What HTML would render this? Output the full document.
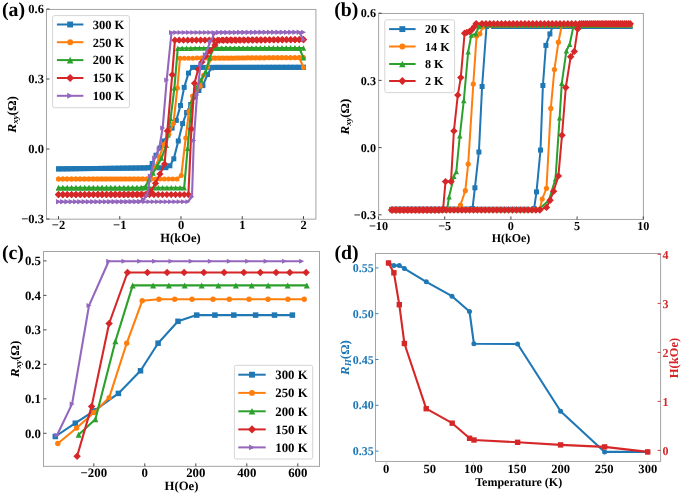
<!DOCTYPE html>
<html><head><meta charset="utf-8"><style>
html,body{margin:0;padding:0;background:#fff;}
svg{display:block;will-change:transform;}
text{font-family:"Liberation Serif", serif;font-weight:bold;text-rendering:geometricPrecision;}
</style></head><body>
<svg width="685" height="503" viewBox="0 0 685 503">
<rect width="685" height="503" fill="#fff"/>
<polyline points="303.5,67.3 299.23,67.3 294.97,67.31 290.7,67.31 286.44,67.32 282.17,67.32 277.91,67.32 273.64,67.33 269.38,67.33 265.11,67.33 260.85,67.34 256.58,67.34 252.32,67.35 248.05,67.35 243.78,67.35 239.52,67.36 235.25,67.36 230.99,67.36 226.72,67.37 222.46,67.37 218.19,67.38 213.93,67.38 209.66,67.38 205.4,67.39 201.13,67.39 196.87,67.4 192.6,67.4 188.5,73.1 184.2,87.37 180.5,105.51 176.3,120.37 172.1,128.12 167.9,135.1 163.9,141 159.9,147.96 156,155.19 152.2,163.5 148.2,167.69 143.93,167.95 139.66,167.99 135.39,168.04 131.11,168.09 126.84,168.14 122.57,168.18 118.3,168.23 114.03,168.28 109.76,168.33 105.49,168.38 101.21,168.42 96.94,168.47 92.67,168.52 88.4,168.57 84.13,168.61 79.86,168.66 75.59,168.71 71.31,168.76 67.04,168.8 62.77,168.85 58.5,168.9 58.5,168.9 62.8,168.85 67.09,168.8 71.39,168.76 75.68,168.71 79.98,168.66 84.28,168.61 88.57,168.56 92.87,168.52 97.16,168.47 101.46,168.42 105.76,168.37 110.05,168.32 114.35,168.28 118.64,168.23 122.94,168.18 127.24,168.13 131.53,168.08 135.83,168.04 140.12,167.99 144.42,167.94 148.72,167.89 153.01,167.84 157.31,167.8 161.6,167.75 165.9,167.7 169.9,165.8 173.8,158.8 178.3,141 182.6,123.6 186.6,112.5 190.7,104.5 194.8,97 198.9,90.5 202.9,85.6 207.5,74.5 211.5,67.9 215.6,67.4 220,67.39 224.39,67.39 228.78,67.38 233.18,67.38 237.57,67.37 241.97,67.37 246.37,67.36 250.76,67.36 255.16,67.35 259.55,67.35 263.94,67.34 268.34,67.34 272.74,67.33 277.13,67.33 281.52,67.32 285.92,67.32 290.31,67.31 294.71,67.31 299.11,67.3 303.5,67.3" fill="none" stroke="#1f77b4" stroke-width="2.1" stroke-linejoin="round"/>
<g><rect x="301" y="64.8" width="5" height="5" fill="#1f77b4"/><rect x="296.73" y="64.8" width="5" height="5" fill="#1f77b4"/><rect x="292.47" y="64.81" width="5" height="5" fill="#1f77b4"/><rect x="288.2" y="64.81" width="5" height="5" fill="#1f77b4"/><rect x="283.94" y="64.82" width="5" height="5" fill="#1f77b4"/><rect x="279.67" y="64.82" width="5" height="5" fill="#1f77b4"/><rect x="275.41" y="64.82" width="5" height="5" fill="#1f77b4"/><rect x="271.14" y="64.83" width="5" height="5" fill="#1f77b4"/><rect x="266.88" y="64.83" width="5" height="5" fill="#1f77b4"/><rect x="262.61" y="64.83" width="5" height="5" fill="#1f77b4"/><rect x="258.35" y="64.84" width="5" height="5" fill="#1f77b4"/><rect x="254.08" y="64.84" width="5" height="5" fill="#1f77b4"/><rect x="249.82" y="64.85" width="5" height="5" fill="#1f77b4"/><rect x="245.55" y="64.85" width="5" height="5" fill="#1f77b4"/><rect x="241.28" y="64.85" width="5" height="5" fill="#1f77b4"/><rect x="237.02" y="64.86" width="5" height="5" fill="#1f77b4"/><rect x="232.75" y="64.86" width="5" height="5" fill="#1f77b4"/><rect x="228.49" y="64.86" width="5" height="5" fill="#1f77b4"/><rect x="224.22" y="64.87" width="5" height="5" fill="#1f77b4"/><rect x="219.96" y="64.87" width="5" height="5" fill="#1f77b4"/><rect x="215.69" y="64.88" width="5" height="5" fill="#1f77b4"/><rect x="211.43" y="64.88" width="5" height="5" fill="#1f77b4"/><rect x="207.16" y="64.88" width="5" height="5" fill="#1f77b4"/><rect x="202.9" y="64.89" width="5" height="5" fill="#1f77b4"/><rect x="198.63" y="64.89" width="5" height="5" fill="#1f77b4"/><rect x="194.37" y="64.9" width="5" height="5" fill="#1f77b4"/><rect x="190.1" y="64.9" width="5" height="5" fill="#1f77b4"/><rect x="186" y="70.6" width="5" height="5" fill="#1f77b4"/><rect x="181.7" y="84.87" width="5" height="5" fill="#1f77b4"/><rect x="178" y="103.01" width="5" height="5" fill="#1f77b4"/><rect x="173.8" y="117.87" width="5" height="5" fill="#1f77b4"/><rect x="169.6" y="125.62" width="5" height="5" fill="#1f77b4"/><rect x="165.4" y="132.6" width="5" height="5" fill="#1f77b4"/><rect x="161.4" y="138.5" width="5" height="5" fill="#1f77b4"/><rect x="157.4" y="145.46" width="5" height="5" fill="#1f77b4"/><rect x="153.5" y="152.69" width="5" height="5" fill="#1f77b4"/><rect x="149.7" y="161" width="5" height="5" fill="#1f77b4"/><rect x="145.7" y="165.19" width="5" height="5" fill="#1f77b4"/><rect x="141.43" y="165.45" width="5" height="5" fill="#1f77b4"/><rect x="137.16" y="165.49" width="5" height="5" fill="#1f77b4"/><rect x="132.89" y="165.54" width="5" height="5" fill="#1f77b4"/><rect x="128.61" y="165.59" width="5" height="5" fill="#1f77b4"/><rect x="124.34" y="165.64" width="5" height="5" fill="#1f77b4"/><rect x="120.07" y="165.68" width="5" height="5" fill="#1f77b4"/><rect x="115.8" y="165.73" width="5" height="5" fill="#1f77b4"/><rect x="111.53" y="165.78" width="5" height="5" fill="#1f77b4"/><rect x="107.26" y="165.83" width="5" height="5" fill="#1f77b4"/><rect x="102.99" y="165.88" width="5" height="5" fill="#1f77b4"/><rect x="98.71" y="165.92" width="5" height="5" fill="#1f77b4"/><rect x="94.44" y="165.97" width="5" height="5" fill="#1f77b4"/><rect x="90.17" y="166.02" width="5" height="5" fill="#1f77b4"/><rect x="85.9" y="166.07" width="5" height="5" fill="#1f77b4"/><rect x="81.63" y="166.11" width="5" height="5" fill="#1f77b4"/><rect x="77.36" y="166.16" width="5" height="5" fill="#1f77b4"/><rect x="73.09" y="166.21" width="5" height="5" fill="#1f77b4"/><rect x="68.81" y="166.26" width="5" height="5" fill="#1f77b4"/><rect x="64.54" y="166.3" width="5" height="5" fill="#1f77b4"/><rect x="60.27" y="166.35" width="5" height="5" fill="#1f77b4"/><rect x="56" y="166.4" width="5" height="5" fill="#1f77b4"/><rect x="56" y="166.4" width="5" height="5" fill="#1f77b4"/><rect x="60.3" y="166.35" width="5" height="5" fill="#1f77b4"/><rect x="64.59" y="166.3" width="5" height="5" fill="#1f77b4"/><rect x="68.89" y="166.26" width="5" height="5" fill="#1f77b4"/><rect x="73.18" y="166.21" width="5" height="5" fill="#1f77b4"/><rect x="77.48" y="166.16" width="5" height="5" fill="#1f77b4"/><rect x="81.78" y="166.11" width="5" height="5" fill="#1f77b4"/><rect x="86.07" y="166.06" width="5" height="5" fill="#1f77b4"/><rect x="90.37" y="166.02" width="5" height="5" fill="#1f77b4"/><rect x="94.66" y="165.97" width="5" height="5" fill="#1f77b4"/><rect x="98.96" y="165.92" width="5" height="5" fill="#1f77b4"/><rect x="103.26" y="165.87" width="5" height="5" fill="#1f77b4"/><rect x="107.55" y="165.82" width="5" height="5" fill="#1f77b4"/><rect x="111.85" y="165.78" width="5" height="5" fill="#1f77b4"/><rect x="116.14" y="165.73" width="5" height="5" fill="#1f77b4"/><rect x="120.44" y="165.68" width="5" height="5" fill="#1f77b4"/><rect x="124.74" y="165.63" width="5" height="5" fill="#1f77b4"/><rect x="129.03" y="165.58" width="5" height="5" fill="#1f77b4"/><rect x="133.33" y="165.54" width="5" height="5" fill="#1f77b4"/><rect x="137.62" y="165.49" width="5" height="5" fill="#1f77b4"/><rect x="141.92" y="165.44" width="5" height="5" fill="#1f77b4"/><rect x="146.22" y="165.39" width="5" height="5" fill="#1f77b4"/><rect x="150.51" y="165.34" width="5" height="5" fill="#1f77b4"/><rect x="154.81" y="165.3" width="5" height="5" fill="#1f77b4"/><rect x="159.1" y="165.25" width="5" height="5" fill="#1f77b4"/><rect x="163.4" y="165.2" width="5" height="5" fill="#1f77b4"/><rect x="167.4" y="163.3" width="5" height="5" fill="#1f77b4"/><rect x="171.3" y="156.3" width="5" height="5" fill="#1f77b4"/><rect x="175.8" y="138.5" width="5" height="5" fill="#1f77b4"/><rect x="180.1" y="121.1" width="5" height="5" fill="#1f77b4"/><rect x="184.1" y="110" width="5" height="5" fill="#1f77b4"/><rect x="188.2" y="102" width="5" height="5" fill="#1f77b4"/><rect x="192.3" y="94.5" width="5" height="5" fill="#1f77b4"/><rect x="196.4" y="88" width="5" height="5" fill="#1f77b4"/><rect x="200.4" y="83.1" width="5" height="5" fill="#1f77b4"/><rect x="205" y="72" width="5" height="5" fill="#1f77b4"/><rect x="209" y="65.4" width="5" height="5" fill="#1f77b4"/><rect x="213.1" y="64.9" width="5" height="5" fill="#1f77b4"/><rect x="217.5" y="64.89" width="5" height="5" fill="#1f77b4"/><rect x="221.89" y="64.89" width="5" height="5" fill="#1f77b4"/><rect x="226.28" y="64.88" width="5" height="5" fill="#1f77b4"/><rect x="230.68" y="64.88" width="5" height="5" fill="#1f77b4"/><rect x="235.07" y="64.87" width="5" height="5" fill="#1f77b4"/><rect x="239.47" y="64.87" width="5" height="5" fill="#1f77b4"/><rect x="243.87" y="64.86" width="5" height="5" fill="#1f77b4"/><rect x="248.26" y="64.86" width="5" height="5" fill="#1f77b4"/><rect x="252.66" y="64.85" width="5" height="5" fill="#1f77b4"/><rect x="257.05" y="64.85" width="5" height="5" fill="#1f77b4"/><rect x="261.44" y="64.84" width="5" height="5" fill="#1f77b4"/><rect x="265.84" y="64.84" width="5" height="5" fill="#1f77b4"/><rect x="270.24" y="64.83" width="5" height="5" fill="#1f77b4"/><rect x="274.63" y="64.83" width="5" height="5" fill="#1f77b4"/><rect x="279.02" y="64.82" width="5" height="5" fill="#1f77b4"/><rect x="283.42" y="64.82" width="5" height="5" fill="#1f77b4"/><rect x="287.81" y="64.81" width="5" height="5" fill="#1f77b4"/><rect x="292.21" y="64.81" width="5" height="5" fill="#1f77b4"/><rect x="296.61" y="64.8" width="5" height="5" fill="#1f77b4"/><rect x="301" y="64.8" width="5" height="5" fill="#1f77b4"/></g>
<polyline points="303.5,67.5 299.24,57.62 294.98,57.64 290.72,57.66 286.47,57.68 282.21,57.7 277.95,57.72 273.69,57.74 269.43,57.77 265.17,57.79 260.91,57.81 256.66,57.83 252.4,57.85 248.14,57.87 243.88,57.89 239.62,57.91 235.36,57.93 231.1,57.95 226.84,57.97 222.59,57.99 218.33,58.01 214.07,58.03 209.81,58.06 205.55,58.08 201.29,58.1 197.03,58.12 192.78,58.14 188.52,58.16 184.26,58.18 180,58.2 177.4,87.9 173.4,123.38 168.9,134.2 163.9,144.4 159.4,156.8 154.9,167.8 150.6,176.75 146.4,179 142,179 137.61,179 133.22,179 128.82,179 124.43,179 120.03,179 115.64,179 111.24,179 106.84,179 102.45,179 98.06,179 93.66,179 89.27,179 84.87,179 80.47,179 76.08,179 71.69,179 67.29,179 62.89,179 58.5,179 58.5,179 62.73,179 66.96,179 71.2,179 75.43,179 79.66,179 83.89,179 88.13,179 92.36,179 96.59,179 100.82,179 105.05,179 109.29,179 113.52,179 117.75,179 121.98,179 126.21,179 130.45,179 134.68,179 138.91,179 143.14,179 147.38,179 151.61,179 155.84,179 160.07,179 164.3,179 168.54,179 172.77,179 177,179 181.3,175.4 185.7,137.9 188.9,111.8 192.5,96.1 196.5,90 200.3,86.2 203.6,75.3 207.7,66.9 211.2,58.3 215.6,58.27 219.99,58.23 224.39,58.2 228.78,58.17 233.18,58.13 237.57,58.1 241.97,58.07 246.36,58.03 250.76,58 255.15,57.97 259.55,57.93 263.94,57.9 268.34,57.87 272.73,57.83 277.13,57.8 281.52,57.77 285.92,57.73 290.31,57.7 294.71,57.67 299.1,57.63 303.5,57.6" fill="none" stroke="#ff7f0e" stroke-width="2.1" stroke-linejoin="round"/>
<g><circle cx="303.5" cy="67.5" r="2.5" fill="#ff7f0e"/><circle cx="299.24" cy="57.62" r="2.5" fill="#ff7f0e"/><circle cx="294.98" cy="57.64" r="2.5" fill="#ff7f0e"/><circle cx="290.72" cy="57.66" r="2.5" fill="#ff7f0e"/><circle cx="286.47" cy="57.68" r="2.5" fill="#ff7f0e"/><circle cx="282.21" cy="57.7" r="2.5" fill="#ff7f0e"/><circle cx="277.95" cy="57.72" r="2.5" fill="#ff7f0e"/><circle cx="273.69" cy="57.74" r="2.5" fill="#ff7f0e"/><circle cx="269.43" cy="57.77" r="2.5" fill="#ff7f0e"/><circle cx="265.17" cy="57.79" r="2.5" fill="#ff7f0e"/><circle cx="260.91" cy="57.81" r="2.5" fill="#ff7f0e"/><circle cx="256.66" cy="57.83" r="2.5" fill="#ff7f0e"/><circle cx="252.4" cy="57.85" r="2.5" fill="#ff7f0e"/><circle cx="248.14" cy="57.87" r="2.5" fill="#ff7f0e"/><circle cx="243.88" cy="57.89" r="2.5" fill="#ff7f0e"/><circle cx="239.62" cy="57.91" r="2.5" fill="#ff7f0e"/><circle cx="235.36" cy="57.93" r="2.5" fill="#ff7f0e"/><circle cx="231.1" cy="57.95" r="2.5" fill="#ff7f0e"/><circle cx="226.84" cy="57.97" r="2.5" fill="#ff7f0e"/><circle cx="222.59" cy="57.99" r="2.5" fill="#ff7f0e"/><circle cx="218.33" cy="58.01" r="2.5" fill="#ff7f0e"/><circle cx="214.07" cy="58.03" r="2.5" fill="#ff7f0e"/><circle cx="209.81" cy="58.06" r="2.5" fill="#ff7f0e"/><circle cx="205.55" cy="58.08" r="2.5" fill="#ff7f0e"/><circle cx="201.29" cy="58.1" r="2.5" fill="#ff7f0e"/><circle cx="197.03" cy="58.12" r="2.5" fill="#ff7f0e"/><circle cx="192.78" cy="58.14" r="2.5" fill="#ff7f0e"/><circle cx="188.52" cy="58.16" r="2.5" fill="#ff7f0e"/><circle cx="184.26" cy="58.18" r="2.5" fill="#ff7f0e"/><circle cx="180" cy="58.2" r="2.5" fill="#ff7f0e"/><circle cx="177.4" cy="87.9" r="2.5" fill="#ff7f0e"/><circle cx="173.4" cy="123.38" r="2.5" fill="#ff7f0e"/><circle cx="168.9" cy="134.2" r="2.5" fill="#ff7f0e"/><circle cx="163.9" cy="144.4" r="2.5" fill="#ff7f0e"/><circle cx="159.4" cy="156.8" r="2.5" fill="#ff7f0e"/><circle cx="154.9" cy="167.8" r="2.5" fill="#ff7f0e"/><circle cx="150.6" cy="176.75" r="2.5" fill="#ff7f0e"/><circle cx="146.4" cy="179" r="2.5" fill="#ff7f0e"/><circle cx="142" cy="179" r="2.5" fill="#ff7f0e"/><circle cx="137.61" cy="179" r="2.5" fill="#ff7f0e"/><circle cx="133.22" cy="179" r="2.5" fill="#ff7f0e"/><circle cx="128.82" cy="179" r="2.5" fill="#ff7f0e"/><circle cx="124.43" cy="179" r="2.5" fill="#ff7f0e"/><circle cx="120.03" cy="179" r="2.5" fill="#ff7f0e"/><circle cx="115.64" cy="179" r="2.5" fill="#ff7f0e"/><circle cx="111.24" cy="179" r="2.5" fill="#ff7f0e"/><circle cx="106.84" cy="179" r="2.5" fill="#ff7f0e"/><circle cx="102.45" cy="179" r="2.5" fill="#ff7f0e"/><circle cx="98.06" cy="179" r="2.5" fill="#ff7f0e"/><circle cx="93.66" cy="179" r="2.5" fill="#ff7f0e"/><circle cx="89.27" cy="179" r="2.5" fill="#ff7f0e"/><circle cx="84.87" cy="179" r="2.5" fill="#ff7f0e"/><circle cx="80.47" cy="179" r="2.5" fill="#ff7f0e"/><circle cx="76.08" cy="179" r="2.5" fill="#ff7f0e"/><circle cx="71.69" cy="179" r="2.5" fill="#ff7f0e"/><circle cx="67.29" cy="179" r="2.5" fill="#ff7f0e"/><circle cx="62.89" cy="179" r="2.5" fill="#ff7f0e"/><circle cx="58.5" cy="179" r="2.5" fill="#ff7f0e"/><circle cx="58.5" cy="179" r="2.5" fill="#ff7f0e"/><circle cx="62.73" cy="179" r="2.5" fill="#ff7f0e"/><circle cx="66.96" cy="179" r="2.5" fill="#ff7f0e"/><circle cx="71.2" cy="179" r="2.5" fill="#ff7f0e"/><circle cx="75.43" cy="179" r="2.5" fill="#ff7f0e"/><circle cx="79.66" cy="179" r="2.5" fill="#ff7f0e"/><circle cx="83.89" cy="179" r="2.5" fill="#ff7f0e"/><circle cx="88.13" cy="179" r="2.5" fill="#ff7f0e"/><circle cx="92.36" cy="179" r="2.5" fill="#ff7f0e"/><circle cx="96.59" cy="179" r="2.5" fill="#ff7f0e"/><circle cx="100.82" cy="179" r="2.5" fill="#ff7f0e"/><circle cx="105.05" cy="179" r="2.5" fill="#ff7f0e"/><circle cx="109.29" cy="179" r="2.5" fill="#ff7f0e"/><circle cx="113.52" cy="179" r="2.5" fill="#ff7f0e"/><circle cx="117.75" cy="179" r="2.5" fill="#ff7f0e"/><circle cx="121.98" cy="179" r="2.5" fill="#ff7f0e"/><circle cx="126.21" cy="179" r="2.5" fill="#ff7f0e"/><circle cx="130.45" cy="179" r="2.5" fill="#ff7f0e"/><circle cx="134.68" cy="179" r="2.5" fill="#ff7f0e"/><circle cx="138.91" cy="179" r="2.5" fill="#ff7f0e"/><circle cx="143.14" cy="179" r="2.5" fill="#ff7f0e"/><circle cx="147.38" cy="179" r="2.5" fill="#ff7f0e"/><circle cx="151.61" cy="179" r="2.5" fill="#ff7f0e"/><circle cx="155.84" cy="179" r="2.5" fill="#ff7f0e"/><circle cx="160.07" cy="179" r="2.5" fill="#ff7f0e"/><circle cx="164.3" cy="179" r="2.5" fill="#ff7f0e"/><circle cx="168.54" cy="179" r="2.5" fill="#ff7f0e"/><circle cx="172.77" cy="179" r="2.5" fill="#ff7f0e"/><circle cx="177" cy="179" r="2.5" fill="#ff7f0e"/><circle cx="181.3" cy="175.4" r="2.5" fill="#ff7f0e"/><circle cx="185.7" cy="137.9" r="2.5" fill="#ff7f0e"/><circle cx="188.9" cy="111.8" r="2.5" fill="#ff7f0e"/><circle cx="192.5" cy="96.1" r="2.5" fill="#ff7f0e"/><circle cx="196.5" cy="90" r="2.5" fill="#ff7f0e"/><circle cx="200.3" cy="86.2" r="2.5" fill="#ff7f0e"/><circle cx="203.6" cy="75.3" r="2.5" fill="#ff7f0e"/><circle cx="207.7" cy="66.9" r="2.5" fill="#ff7f0e"/><circle cx="211.2" cy="58.3" r="2.5" fill="#ff7f0e"/><circle cx="215.6" cy="58.27" r="2.5" fill="#ff7f0e"/><circle cx="219.99" cy="58.23" r="2.5" fill="#ff7f0e"/><circle cx="224.39" cy="58.2" r="2.5" fill="#ff7f0e"/><circle cx="228.78" cy="58.17" r="2.5" fill="#ff7f0e"/><circle cx="233.18" cy="58.13" r="2.5" fill="#ff7f0e"/><circle cx="237.57" cy="58.1" r="2.5" fill="#ff7f0e"/><circle cx="241.97" cy="58.07" r="2.5" fill="#ff7f0e"/><circle cx="246.36" cy="58.03" r="2.5" fill="#ff7f0e"/><circle cx="250.76" cy="58" r="2.5" fill="#ff7f0e"/><circle cx="255.15" cy="57.97" r="2.5" fill="#ff7f0e"/><circle cx="259.55" cy="57.93" r="2.5" fill="#ff7f0e"/><circle cx="263.94" cy="57.9" r="2.5" fill="#ff7f0e"/><circle cx="268.34" cy="57.87" r="2.5" fill="#ff7f0e"/><circle cx="272.73" cy="57.83" r="2.5" fill="#ff7f0e"/><circle cx="277.13" cy="57.8" r="2.5" fill="#ff7f0e"/><circle cx="281.52" cy="57.77" r="2.5" fill="#ff7f0e"/><circle cx="285.92" cy="57.73" r="2.5" fill="#ff7f0e"/><circle cx="290.31" cy="57.7" r="2.5" fill="#ff7f0e"/><circle cx="294.71" cy="57.67" r="2.5" fill="#ff7f0e"/><circle cx="299.1" cy="57.63" r="2.5" fill="#ff7f0e"/><circle cx="303.5" cy="57.6" r="2.5" fill="#ff7f0e"/></g>
<polyline points="303.5,57.8 299.17,48.01 294.83,48.01 290.5,48.02 286.16,48.03 281.83,48.03 277.49,48.04 273.16,48.05 268.82,48.06 264.49,48.06 260.16,48.07 255.82,48.08 251.49,48.08 247.15,48.09 242.82,48.1 238.48,48.1 234.15,48.11 229.81,48.12 225.48,48.12 221.14,48.13 216.81,48.14 212.48,48.14 208.14,48.15 203.81,48.16 199.47,48.17 195.14,48.17 190.8,48.18 186.47,48.19 182.13,48.19 177.8,48.2 174.4,87.9 170.6,118.4 166.4,145.4 161.5,158 157.2,165.94 153.1,173.06 149.1,179.5 145.9,185.9 141.53,187.7 137.16,187.7 132.79,187.7 128.42,187.7 124.05,187.7 119.68,187.7 115.31,187.7 110.94,187.7 106.57,187.7 102.2,187.7 97.83,187.7 93.46,187.7 89.09,187.7 84.72,187.7 80.35,187.7 75.98,187.7 71.61,187.7 67.24,187.7 62.87,187.7 58.5,187.7 58.5,187.7 62.84,187.7 67.18,187.7 71.52,187.7 75.86,187.7 80.2,187.7 84.54,187.7 88.88,187.7 93.21,187.7 97.55,187.7 101.89,187.7 106.23,187.7 110.57,187.7 114.91,187.7 119.25,187.7 123.59,187.7 127.93,187.7 132.27,187.7 136.61,187.7 140.95,187.7 145.29,187.7 149.62,187.7 153.96,187.7 158.3,187.7 162.64,187.7 166.98,187.7 171.32,187.7 175.66,187.7 180,187.7 184.2,187.7 187.6,148.33 191.8,101.3 196,88 200.9,80.16 205.8,71.2 209.6,58.08 213.5,48.2 217.79,48.19 222.07,48.18 226.36,48.17 230.64,48.16 234.93,48.15 239.21,48.14 243.5,48.13 247.79,48.12 252.07,48.11 256.36,48.1 260.64,48.1 264.93,48.09 269.21,48.08 273.5,48.07 277.79,48.06 282.07,48.05 286.36,48.04 290.64,48.03 294.93,48.02 299.21,48.01 303.5,48" fill="none" stroke="#2ca02c" stroke-width="2.1" stroke-linejoin="round"/>
<g><path d="M303.5 55.1L300.8 60.5L306.2 60.5Z" fill="#2ca02c"/><path d="M299.17 45.31L296.47 50.71L301.87 50.71Z" fill="#2ca02c"/><path d="M294.83 45.31L292.13 50.71L297.53 50.71Z" fill="#2ca02c"/><path d="M290.5 45.32L287.8 50.72L293.2 50.72Z" fill="#2ca02c"/><path d="M286.16 45.33L283.46 50.73L288.86 50.73Z" fill="#2ca02c"/><path d="M281.83 45.33L279.13 50.73L284.53 50.73Z" fill="#2ca02c"/><path d="M277.49 45.34L274.79 50.74L280.19 50.74Z" fill="#2ca02c"/><path d="M273.16 45.35L270.46 50.75L275.86 50.75Z" fill="#2ca02c"/><path d="M268.82 45.36L266.12 50.76L271.52 50.76Z" fill="#2ca02c"/><path d="M264.49 45.36L261.79 50.76L267.19 50.76Z" fill="#2ca02c"/><path d="M260.16 45.37L257.46 50.77L262.86 50.77Z" fill="#2ca02c"/><path d="M255.82 45.38L253.12 50.78L258.52 50.78Z" fill="#2ca02c"/><path d="M251.49 45.38L248.79 50.78L254.19 50.78Z" fill="#2ca02c"/><path d="M247.15 45.39L244.45 50.79L249.85 50.79Z" fill="#2ca02c"/><path d="M242.82 45.4L240.12 50.8L245.52 50.8Z" fill="#2ca02c"/><path d="M238.48 45.4L235.78 50.8L241.18 50.8Z" fill="#2ca02c"/><path d="M234.15 45.41L231.45 50.81L236.85 50.81Z" fill="#2ca02c"/><path d="M229.81 45.42L227.11 50.82L232.51 50.82Z" fill="#2ca02c"/><path d="M225.48 45.42L222.78 50.82L228.18 50.82Z" fill="#2ca02c"/><path d="M221.14 45.43L218.44 50.83L223.84 50.83Z" fill="#2ca02c"/><path d="M216.81 45.44L214.11 50.84L219.51 50.84Z" fill="#2ca02c"/><path d="M212.48 45.44L209.78 50.84L215.18 50.84Z" fill="#2ca02c"/><path d="M208.14 45.45L205.44 50.85L210.84 50.85Z" fill="#2ca02c"/><path d="M203.81 45.46L201.11 50.86L206.51 50.86Z" fill="#2ca02c"/><path d="M199.47 45.47L196.77 50.87L202.17 50.87Z" fill="#2ca02c"/><path d="M195.14 45.47L192.44 50.87L197.84 50.87Z" fill="#2ca02c"/><path d="M190.8 45.48L188.1 50.88L193.5 50.88Z" fill="#2ca02c"/><path d="M186.47 45.49L183.77 50.89L189.17 50.89Z" fill="#2ca02c"/><path d="M182.13 45.49L179.43 50.89L184.83 50.89Z" fill="#2ca02c"/><path d="M177.8 45.5L175.1 50.9L180.5 50.9Z" fill="#2ca02c"/><path d="M174.4 85.2L171.7 90.6L177.1 90.6Z" fill="#2ca02c"/><path d="M170.6 115.7L167.9 121.1L173.3 121.1Z" fill="#2ca02c"/><path d="M166.4 142.7L163.7 148.1L169.1 148.1Z" fill="#2ca02c"/><path d="M161.5 155.3L158.8 160.7L164.2 160.7Z" fill="#2ca02c"/><path d="M157.2 163.24L154.5 168.64L159.9 168.64Z" fill="#2ca02c"/><path d="M153.1 170.36L150.4 175.76L155.8 175.76Z" fill="#2ca02c"/><path d="M149.1 176.8L146.4 182.2L151.8 182.2Z" fill="#2ca02c"/><path d="M145.9 183.2L143.2 188.6L148.6 188.6Z" fill="#2ca02c"/><path d="M141.53 185L138.83 190.4L144.23 190.4Z" fill="#2ca02c"/><path d="M137.16 185L134.46 190.4L139.86 190.4Z" fill="#2ca02c"/><path d="M132.79 185L130.09 190.4L135.49 190.4Z" fill="#2ca02c"/><path d="M128.42 185L125.72 190.4L131.12 190.4Z" fill="#2ca02c"/><path d="M124.05 185L121.35 190.4L126.75 190.4Z" fill="#2ca02c"/><path d="M119.68 185L116.98 190.4L122.38 190.4Z" fill="#2ca02c"/><path d="M115.31 185L112.61 190.4L118.01 190.4Z" fill="#2ca02c"/><path d="M110.94 185L108.24 190.4L113.64 190.4Z" fill="#2ca02c"/><path d="M106.57 185L103.87 190.4L109.27 190.4Z" fill="#2ca02c"/><path d="M102.2 185L99.5 190.4L104.9 190.4Z" fill="#2ca02c"/><path d="M97.83 185L95.13 190.4L100.53 190.4Z" fill="#2ca02c"/><path d="M93.46 185L90.76 190.4L96.16 190.4Z" fill="#2ca02c"/><path d="M89.09 185L86.39 190.4L91.79 190.4Z" fill="#2ca02c"/><path d="M84.72 185L82.02 190.4L87.42 190.4Z" fill="#2ca02c"/><path d="M80.35 185L77.65 190.4L83.05 190.4Z" fill="#2ca02c"/><path d="M75.98 185L73.28 190.4L78.68 190.4Z" fill="#2ca02c"/><path d="M71.61 185L68.91 190.4L74.31 190.4Z" fill="#2ca02c"/><path d="M67.24 185L64.54 190.4L69.94 190.4Z" fill="#2ca02c"/><path d="M62.87 185L60.17 190.4L65.57 190.4Z" fill="#2ca02c"/><path d="M58.5 185L55.8 190.4L61.2 190.4Z" fill="#2ca02c"/><path d="M58.5 185L55.8 190.4L61.2 190.4Z" fill="#2ca02c"/><path d="M62.84 185L60.14 190.4L65.54 190.4Z" fill="#2ca02c"/><path d="M67.18 185L64.48 190.4L69.88 190.4Z" fill="#2ca02c"/><path d="M71.52 185L68.82 190.4L74.22 190.4Z" fill="#2ca02c"/><path d="M75.86 185L73.16 190.4L78.56 190.4Z" fill="#2ca02c"/><path d="M80.2 185L77.5 190.4L82.9 190.4Z" fill="#2ca02c"/><path d="M84.54 185L81.84 190.4L87.24 190.4Z" fill="#2ca02c"/><path d="M88.88 185L86.17 190.4L91.58 190.4Z" fill="#2ca02c"/><path d="M93.21 185L90.51 190.4L95.91 190.4Z" fill="#2ca02c"/><path d="M97.55 185L94.85 190.4L100.25 190.4Z" fill="#2ca02c"/><path d="M101.89 185L99.19 190.4L104.59 190.4Z" fill="#2ca02c"/><path d="M106.23 185L103.53 190.4L108.93 190.4Z" fill="#2ca02c"/><path d="M110.57 185L107.87 190.4L113.27 190.4Z" fill="#2ca02c"/><path d="M114.91 185L112.21 190.4L117.61 190.4Z" fill="#2ca02c"/><path d="M119.25 185L116.55 190.4L121.95 190.4Z" fill="#2ca02c"/><path d="M123.59 185L120.89 190.4L126.29 190.4Z" fill="#2ca02c"/><path d="M127.93 185L125.23 190.4L130.63 190.4Z" fill="#2ca02c"/><path d="M132.27 185L129.57 190.4L134.97 190.4Z" fill="#2ca02c"/><path d="M136.61 185L133.91 190.4L139.31 190.4Z" fill="#2ca02c"/><path d="M140.95 185L138.25 190.4L143.65 190.4Z" fill="#2ca02c"/><path d="M145.29 185L142.59 190.4L147.99 190.4Z" fill="#2ca02c"/><path d="M149.62 185L146.93 190.4L152.32 190.4Z" fill="#2ca02c"/><path d="M153.96 185L151.26 190.4L156.66 190.4Z" fill="#2ca02c"/><path d="M158.3 185L155.6 190.4L161 190.4Z" fill="#2ca02c"/><path d="M162.64 185L159.94 190.4L165.34 190.4Z" fill="#2ca02c"/><path d="M166.98 185L164.28 190.4L169.68 190.4Z" fill="#2ca02c"/><path d="M171.32 185L168.62 190.4L174.02 190.4Z" fill="#2ca02c"/><path d="M175.66 185L172.96 190.4L178.36 190.4Z" fill="#2ca02c"/><path d="M180 185L177.3 190.4L182.7 190.4Z" fill="#2ca02c"/><path d="M184.2 185L181.5 190.4L186.9 190.4Z" fill="#2ca02c"/><path d="M187.6 145.63L184.9 151.03L190.3 151.03Z" fill="#2ca02c"/><path d="M191.8 98.6L189.1 104L194.5 104Z" fill="#2ca02c"/><path d="M196 85.3L193.3 90.7L198.7 90.7Z" fill="#2ca02c"/><path d="M200.9 77.46L198.2 82.86L203.6 82.86Z" fill="#2ca02c"/><path d="M205.8 68.5L203.1 73.9L208.5 73.9Z" fill="#2ca02c"/><path d="M209.6 55.38L206.9 60.78L212.3 60.78Z" fill="#2ca02c"/><path d="M213.5 45.5L210.8 50.9L216.2 50.9Z" fill="#2ca02c"/><path d="M217.79 45.49L215.09 50.89L220.49 50.89Z" fill="#2ca02c"/><path d="M222.07 45.48L219.37 50.88L224.77 50.88Z" fill="#2ca02c"/><path d="M226.36 45.47L223.66 50.87L229.06 50.87Z" fill="#2ca02c"/><path d="M230.64 45.46L227.94 50.86L233.34 50.86Z" fill="#2ca02c"/><path d="M234.93 45.45L232.23 50.85L237.63 50.85Z" fill="#2ca02c"/><path d="M239.21 45.44L236.51 50.84L241.91 50.84Z" fill="#2ca02c"/><path d="M243.5 45.43L240.8 50.83L246.2 50.83Z" fill="#2ca02c"/><path d="M247.79 45.42L245.09 50.82L250.49 50.82Z" fill="#2ca02c"/><path d="M252.07 45.41L249.37 50.81L254.77 50.81Z" fill="#2ca02c"/><path d="M256.36 45.4L253.66 50.8L259.06 50.8Z" fill="#2ca02c"/><path d="M260.64 45.4L257.94 50.8L263.34 50.8Z" fill="#2ca02c"/><path d="M264.93 45.39L262.23 50.79L267.63 50.79Z" fill="#2ca02c"/><path d="M269.21 45.38L266.51 50.78L271.91 50.78Z" fill="#2ca02c"/><path d="M273.5 45.37L270.8 50.77L276.2 50.77Z" fill="#2ca02c"/><path d="M277.79 45.36L275.09 50.76L280.49 50.76Z" fill="#2ca02c"/><path d="M282.07 45.35L279.37 50.75L284.77 50.75Z" fill="#2ca02c"/><path d="M286.36 45.34L283.66 50.74L289.06 50.74Z" fill="#2ca02c"/><path d="M290.64 45.33L287.94 50.73L293.34 50.73Z" fill="#2ca02c"/><path d="M294.93 45.32L292.23 50.72L297.63 50.72Z" fill="#2ca02c"/><path d="M299.21 45.31L296.51 50.71L301.91 50.71Z" fill="#2ca02c"/><path d="M303.5 45.3L300.8 50.7L306.2 50.7Z" fill="#2ca02c"/></g>
<polyline points="303.5,39.6 299.21,39.62 294.93,39.64 290.64,39.66 286.35,39.68 282.07,39.7 277.78,39.72 273.49,39.74 269.21,39.76 264.92,39.78 260.63,39.8 256.35,39.82 252.06,39.84 247.77,39.86 243.49,39.88 239.2,39.9 234.91,39.92 230.63,39.94 226.34,39.96 222.05,39.98 217.77,40 213.48,40.02 209.19,40.04 204.91,40.06 200.62,40.08 196.33,40.1 192.05,40.12 187.76,40.14 183.47,40.16 179.19,40.18 174.9,40.2 172.2,74.8 167.4,130.9 164.6,164 160,174 155.5,183.3 150.7,191.5 146.4,194.3 142,194.32 137.61,194.33 133.22,194.35 128.82,194.36 124.43,194.38 120.03,194.39 115.64,194.41 111.24,194.42 106.84,194.44 102.45,194.45 98.06,194.47 93.66,194.48 89.27,194.5 84.87,194.51 80.47,194.53 76.08,194.54 71.69,194.56 67.29,194.57 62.89,194.59 58.5,194.6 58.5,194.6 62.83,194.6 67.17,194.6 71.5,194.6 75.84,194.6 80.17,194.6 84.51,194.6 88.84,194.6 93.18,194.6 97.51,194.6 101.84,194.6 106.18,194.6 110.51,194.6 114.85,194.6 119.18,194.6 123.52,194.6 127.85,194.6 132.19,194.6 136.52,194.6 140.86,194.6 145.19,194.6 149.52,194.6 153.86,194.6 158.19,194.6 162.53,194.6 166.86,194.6 171.2,194.6 175.53,194.6 179.87,194.6 184.2,194.6 188.4,194.6 191.4,128.9 194.5,83.3 198.2,69.3 202,62 205.9,55.99 209.9,50.9 214.9,44.9 219.2,40.49 223.41,40.44 227.63,40.4 231.84,40.35 236.06,40.31 240.27,40.27 244.49,40.22 248.7,40.18 252.92,40.13 257.13,40.09 261.35,40.04 265.56,40 269.78,39.95 274,39.91 278.21,39.87 282.43,39.82 286.64,39.78 290.86,39.73 295.07,39.69 299.28,39.64 303.5,39.6" fill="none" stroke="#d62728" stroke-width="2.1" stroke-linejoin="round"/>
<g><path d="M303.5 36L307.1 39.6L303.5 43.2L299.9 39.6Z" fill="#d62728"/><path d="M299.21 36.02L302.81 39.62L299.21 43.22L295.62 39.62Z" fill="#d62728"/><path d="M294.93 36.04L298.52 39.64L294.93 43.24L291.33 39.64Z" fill="#d62728"/><path d="M290.64 36.06L294.24 39.66L290.64 43.26L287.04 39.66Z" fill="#d62728"/><path d="M286.35 36.08L289.95 39.68L286.35 43.28L282.76 39.68Z" fill="#d62728"/><path d="M282.07 36.1L285.66 39.7L282.07 43.3L278.47 39.7Z" fill="#d62728"/><path d="M277.78 36.12L281.38 39.72L277.78 43.32L274.18 39.72Z" fill="#d62728"/><path d="M273.49 36.14L277.09 39.74L273.49 43.34L269.9 39.74Z" fill="#d62728"/><path d="M269.21 36.16L272.8 39.76L269.21 43.36L265.61 39.76Z" fill="#d62728"/><path d="M264.92 36.18L268.52 39.78L264.92 43.38L261.32 39.78Z" fill="#d62728"/><path d="M260.63 36.2L264.23 39.8L260.63 43.4L257.04 39.8Z" fill="#d62728"/><path d="M256.35 36.22L259.94 39.82L256.35 43.42L252.75 39.82Z" fill="#d62728"/><path d="M252.06 36.24L255.66 39.84L252.06 43.44L248.46 39.84Z" fill="#d62728"/><path d="M247.77 36.26L251.37 39.86L247.77 43.46L244.18 39.86Z" fill="#d62728"/><path d="M243.49 36.28L247.08 39.88L243.49 43.48L239.89 39.88Z" fill="#d62728"/><path d="M239.2 36.3L242.8 39.9L239.2 43.5L235.6 39.9Z" fill="#d62728"/><path d="M234.91 36.32L238.51 39.92L234.91 43.52L231.32 39.92Z" fill="#d62728"/><path d="M230.63 36.34L234.22 39.94L230.63 43.54L227.03 39.94Z" fill="#d62728"/><path d="M226.34 36.36L229.94 39.96L226.34 43.56L222.74 39.96Z" fill="#d62728"/><path d="M222.05 36.38L225.65 39.98L222.05 43.58L218.46 39.98Z" fill="#d62728"/><path d="M217.77 36.4L221.36 40L217.77 43.6L214.17 40Z" fill="#d62728"/><path d="M213.48 36.42L217.08 40.02L213.48 43.62L209.88 40.02Z" fill="#d62728"/><path d="M209.19 36.44L212.79 40.04L209.19 43.64L205.6 40.04Z" fill="#d62728"/><path d="M204.91 36.46L208.5 40.06L204.91 43.66L201.31 40.06Z" fill="#d62728"/><path d="M200.62 36.48L204.22 40.08L200.62 43.68L197.02 40.08Z" fill="#d62728"/><path d="M196.33 36.5L199.93 40.1L196.33 43.7L192.74 40.1Z" fill="#d62728"/><path d="M192.05 36.52L195.64 40.12L192.05 43.72L188.45 40.12Z" fill="#d62728"/><path d="M187.76 36.54L191.36 40.14L187.76 43.74L184.16 40.14Z" fill="#d62728"/><path d="M183.47 36.56L187.07 40.16L183.47 43.76L179.88 40.16Z" fill="#d62728"/><path d="M179.19 36.58L182.78 40.18L179.19 43.78L175.59 40.18Z" fill="#d62728"/><path d="M174.9 36.6L178.5 40.2L174.9 43.8L171.3 40.2Z" fill="#d62728"/><path d="M172.2 71.2L175.8 74.8L172.2 78.4L168.6 74.8Z" fill="#d62728"/><path d="M167.4 127.3L171 130.9L167.4 134.5L163.8 130.9Z" fill="#d62728"/><path d="M164.6 160.4L168.2 164L164.6 167.6L161 164Z" fill="#d62728"/><path d="M160 170.4L163.6 174L160 177.6L156.4 174Z" fill="#d62728"/><path d="M155.5 179.7L159.1 183.3L155.5 186.9L151.9 183.3Z" fill="#d62728"/><path d="M150.7 187.9L154.3 191.5L150.7 195.1L147.1 191.5Z" fill="#d62728"/><path d="M146.4 190.71L150 194.3L146.4 197.9L142.8 194.3Z" fill="#d62728"/><path d="M142 190.72L145.6 194.32L142 197.91L138.41 194.32Z" fill="#d62728"/><path d="M137.61 190.74L141.21 194.33L137.61 197.93L134.01 194.33Z" fill="#d62728"/><path d="M133.22 190.75L136.81 194.35L133.22 197.94L129.62 194.35Z" fill="#d62728"/><path d="M128.82 190.77L132.42 194.36L128.82 197.96L125.22 194.36Z" fill="#d62728"/><path d="M124.43 190.78L128.02 194.38L124.43 197.97L120.83 194.38Z" fill="#d62728"/><path d="M120.03 190.8L123.63 194.39L120.03 197.99L116.43 194.39Z" fill="#d62728"/><path d="M115.64 190.81L119.23 194.41L115.64 198L112.04 194.41Z" fill="#d62728"/><path d="M111.24 190.83L114.84 194.42L111.24 198.02L107.64 194.42Z" fill="#d62728"/><path d="M106.84 190.84L110.44 194.44L106.84 198.03L103.25 194.44Z" fill="#d62728"/><path d="M102.45 190.86L106.05 194.45L102.45 198.05L98.85 194.45Z" fill="#d62728"/><path d="M98.06 190.87L101.65 194.47L98.06 198.06L94.46 194.47Z" fill="#d62728"/><path d="M93.66 190.88L97.26 194.48L93.66 198.08L90.06 194.48Z" fill="#d62728"/><path d="M89.27 190.9L92.86 194.5L89.27 198.09L85.67 194.5Z" fill="#d62728"/><path d="M84.87 190.91L88.47 194.51L84.87 198.11L81.27 194.51Z" fill="#d62728"/><path d="M80.47 190.93L84.07 194.53L80.47 198.12L76.88 194.53Z" fill="#d62728"/><path d="M76.08 190.94L79.68 194.54L76.08 198.14L72.48 194.54Z" fill="#d62728"/><path d="M71.69 190.96L75.28 194.56L71.69 198.15L68.09 194.56Z" fill="#d62728"/><path d="M67.29 190.97L70.89 194.57L67.29 198.17L63.69 194.57Z" fill="#d62728"/><path d="M62.89 190.99L66.49 194.59L62.89 198.18L59.3 194.59Z" fill="#d62728"/><path d="M58.5 191L62.1 194.6L58.5 198.2L54.9 194.6Z" fill="#d62728"/><path d="M58.5 191L62.1 194.6L58.5 198.2L54.9 194.6Z" fill="#d62728"/><path d="M62.83 191L66.43 194.6L62.83 198.2L59.24 194.6Z" fill="#d62728"/><path d="M67.17 191L70.76 194.6L67.17 198.2L63.57 194.6Z" fill="#d62728"/><path d="M71.5 191L75.1 194.6L71.5 198.2L67.91 194.6Z" fill="#d62728"/><path d="M75.84 191L79.43 194.6L75.84 198.2L72.24 194.6Z" fill="#d62728"/><path d="M80.17 191L83.77 194.6L80.17 198.2L76.58 194.6Z" fill="#d62728"/><path d="M84.51 191L88.1 194.6L84.51 198.2L80.91 194.6Z" fill="#d62728"/><path d="M88.84 191L92.44 194.6L88.84 198.2L85.25 194.6Z" fill="#d62728"/><path d="M93.18 191L96.77 194.6L93.18 198.2L89.58 194.6Z" fill="#d62728"/><path d="M97.51 191L101.11 194.6L97.51 198.2L93.91 194.6Z" fill="#d62728"/><path d="M101.84 191L105.44 194.6L101.84 198.2L98.25 194.6Z" fill="#d62728"/><path d="M106.18 191L109.78 194.6L106.18 198.2L102.58 194.6Z" fill="#d62728"/><path d="M110.51 191L114.11 194.6L110.51 198.2L106.92 194.6Z" fill="#d62728"/><path d="M114.85 191L118.44 194.6L114.85 198.2L111.25 194.6Z" fill="#d62728"/><path d="M119.18 191L122.78 194.6L119.18 198.2L115.59 194.6Z" fill="#d62728"/><path d="M123.52 191L127.11 194.6L123.52 198.2L119.92 194.6Z" fill="#d62728"/><path d="M127.85 191L131.45 194.6L127.85 198.2L124.26 194.6Z" fill="#d62728"/><path d="M132.19 191L135.78 194.6L132.19 198.2L128.59 194.6Z" fill="#d62728"/><path d="M136.52 191L140.12 194.6L136.52 198.2L132.92 194.6Z" fill="#d62728"/><path d="M140.86 191L144.45 194.6L140.86 198.2L137.26 194.6Z" fill="#d62728"/><path d="M145.19 191L148.79 194.6L145.19 198.2L141.59 194.6Z" fill="#d62728"/><path d="M149.52 191L153.12 194.6L149.52 198.2L145.93 194.6Z" fill="#d62728"/><path d="M153.86 191L157.45 194.6L153.86 198.2L150.26 194.6Z" fill="#d62728"/><path d="M158.19 191L161.79 194.6L158.19 198.2L154.6 194.6Z" fill="#d62728"/><path d="M162.53 191L166.12 194.6L162.53 198.2L158.93 194.6Z" fill="#d62728"/><path d="M166.86 191L170.46 194.6L166.86 198.2L163.27 194.6Z" fill="#d62728"/><path d="M171.2 191L174.79 194.6L171.2 198.2L167.6 194.6Z" fill="#d62728"/><path d="M175.53 191L179.13 194.6L175.53 198.2L171.94 194.6Z" fill="#d62728"/><path d="M179.87 191L183.46 194.6L179.87 198.2L176.27 194.6Z" fill="#d62728"/><path d="M184.2 191L187.8 194.6L184.2 198.2L180.6 194.6Z" fill="#d62728"/><path d="M188.4 191L192 194.6L188.4 198.2L184.8 194.6Z" fill="#d62728"/><path d="M191.4 125.3L195 128.9L191.4 132.5L187.8 128.9Z" fill="#d62728"/><path d="M194.5 79.7L198.1 83.3L194.5 86.9L190.9 83.3Z" fill="#d62728"/><path d="M198.2 65.7L201.8 69.3L198.2 72.9L194.6 69.3Z" fill="#d62728"/><path d="M202 58.4L205.6 62L202 65.6L198.4 62Z" fill="#d62728"/><path d="M205.9 52.39L209.5 55.99L205.9 59.59L202.3 55.99Z" fill="#d62728"/><path d="M209.9 47.3L213.5 50.9L209.9 54.5L206.3 50.9Z" fill="#d62728"/><path d="M214.9 41.3L218.5 44.9L214.9 48.5L211.3 44.9Z" fill="#d62728"/><path d="M219.2 36.89L222.8 40.49L219.2 44.08L215.6 40.49Z" fill="#d62728"/><path d="M223.41 36.85L227.01 40.44L223.41 44.04L219.82 40.44Z" fill="#d62728"/><path d="M227.63 36.8L231.23 40.4L227.63 43.99L224.03 40.4Z" fill="#d62728"/><path d="M231.84 36.76L235.44 40.35L231.84 43.95L228.25 40.35Z" fill="#d62728"/><path d="M236.06 36.71L239.66 40.31L236.06 43.91L232.46 40.31Z" fill="#d62728"/><path d="M240.27 36.67L243.87 40.27L240.27 43.86L236.68 40.27Z" fill="#d62728"/><path d="M244.49 36.63L248.09 40.22L244.49 43.82L240.89 40.22Z" fill="#d62728"/><path d="M248.7 36.58L252.3 40.18L248.7 43.77L245.11 40.18Z" fill="#d62728"/><path d="M252.92 36.54L256.52 40.13L252.92 43.73L249.32 40.13Z" fill="#d62728"/><path d="M257.13 36.49L260.73 40.09L257.13 43.68L253.54 40.09Z" fill="#d62728"/><path d="M261.35 36.45L264.95 40.04L261.35 43.64L257.75 40.04Z" fill="#d62728"/><path d="M265.56 36.4L269.16 40L265.56 43.6L261.97 40Z" fill="#d62728"/><path d="M269.78 36.36L273.38 39.95L269.78 43.55L266.18 39.95Z" fill="#d62728"/><path d="M274 36.31L277.59 39.91L274 43.51L270.4 39.91Z" fill="#d62728"/><path d="M278.21 36.27L281.81 39.87L278.21 43.46L274.61 39.87Z" fill="#d62728"/><path d="M282.43 36.23L286.02 39.82L282.43 43.42L278.83 39.82Z" fill="#d62728"/><path d="M286.64 36.18L290.24 39.78L286.64 43.37L283.04 39.78Z" fill="#d62728"/><path d="M290.86 36.14L294.45 39.73L290.86 43.33L287.26 39.73Z" fill="#d62728"/><path d="M295.07 36.09L298.67 39.69L295.07 43.28L291.47 39.69Z" fill="#d62728"/><path d="M299.28 36.05L302.88 39.64L299.28 43.24L295.69 39.64Z" fill="#d62728"/><path d="M303.5 36L307.1 39.6L303.5 43.2L299.9 39.6Z" fill="#d62728"/></g>
<polyline points="303.5,39.7 299.24,32.31 294.98,32.31 290.73,32.32 286.47,32.33 282.21,32.33 277.95,32.34 273.69,32.35 269.44,32.35 265.18,32.36 260.92,32.36 256.66,32.37 252.4,32.38 248.15,32.38 243.89,32.39 239.63,32.4 235.37,32.4 231.11,32.41 226.85,32.42 222.6,32.42 218.34,32.43 214.08,32.44 209.82,32.44 205.56,32.45 201.31,32.45 197.05,32.46 192.79,32.47 188.53,32.47 184.27,32.48 180.02,32.49 175.76,32.49 171.5,32.5 166.7,80 162.7,127.9 159.1,149 154.6,158 150.3,176 147.1,195.4 143.5,199.16 139.5,201.6 135.24,201.61 130.97,201.62 126.71,201.63 122.45,201.64 118.18,201.65 113.92,201.66 109.66,201.67 105.39,201.68 101.13,201.7 96.87,201.71 92.61,201.72 88.34,201.73 84.08,201.74 79.82,201.75 75.55,201.76 71.29,201.77 67.03,201.78 62.76,201.79 58.5,201.8 58.5,201.8 62.81,201.8 67.12,201.79 71.43,201.79 75.74,201.79 80.05,201.78 84.36,201.78 88.67,201.78 92.98,201.77 97.29,201.77 101.6,201.77 105.91,201.76 110.22,201.76 114.53,201.76 118.84,201.75 123.15,201.75 127.46,201.75 131.77,201.74 136.08,201.74 140.39,201.74 144.7,201.73 149.01,201.73 153.32,201.73 157.63,201.72 161.94,201.72 166.25,201.72 170.56,201.71 174.87,201.71 179.18,201.71 183.49,201.7 187.8,201.7 192,196.8 193.8,140.5 197,95 200.6,64.5 205.3,54.4 210.4,41.7 214.5,33.5 218.7,32.4 222.94,32.39 227.18,32.39 231.42,32.38 235.66,32.38 239.9,32.37 244.14,32.37 248.38,32.36 252.62,32.36 256.86,32.35 261.1,32.35 265.34,32.34 269.58,32.34 273.82,32.33 278.06,32.33 282.3,32.32 286.54,32.32 290.78,32.31 295.02,32.31 299.26,32.3 303.5,32.3" fill="none" stroke="#9467bd" stroke-width="2.1" stroke-linejoin="round"/>
<g><path d="M306 39.7L301 37.2L301 42.2Z" fill="#9467bd"/><path d="M301.74 32.31L296.74 29.81L296.74 34.81Z" fill="#9467bd"/><path d="M297.48 32.31L292.48 29.81L292.48 34.81Z" fill="#9467bd"/><path d="M293.23 32.32L288.23 29.82L288.23 34.82Z" fill="#9467bd"/><path d="M288.97 32.33L283.97 29.83L283.97 34.83Z" fill="#9467bd"/><path d="M284.71 32.33L279.71 29.83L279.71 34.83Z" fill="#9467bd"/><path d="M280.45 32.34L275.45 29.84L275.45 34.84Z" fill="#9467bd"/><path d="M276.19 32.35L271.19 29.85L271.19 34.85Z" fill="#9467bd"/><path d="M271.94 32.35L266.94 29.85L266.94 34.85Z" fill="#9467bd"/><path d="M267.68 32.36L262.68 29.86L262.68 34.86Z" fill="#9467bd"/><path d="M263.42 32.36L258.42 29.86L258.42 34.86Z" fill="#9467bd"/><path d="M259.16 32.37L254.16 29.87L254.16 34.87Z" fill="#9467bd"/><path d="M254.9 32.38L249.9 29.88L249.9 34.88Z" fill="#9467bd"/><path d="M250.65 32.38L245.65 29.88L245.65 34.88Z" fill="#9467bd"/><path d="M246.39 32.39L241.39 29.89L241.39 34.89Z" fill="#9467bd"/><path d="M242.13 32.4L237.13 29.9L237.13 34.9Z" fill="#9467bd"/><path d="M237.87 32.4L232.87 29.9L232.87 34.9Z" fill="#9467bd"/><path d="M233.61 32.41L228.61 29.91L228.61 34.91Z" fill="#9467bd"/><path d="M229.35 32.42L224.35 29.92L224.35 34.92Z" fill="#9467bd"/><path d="M225.1 32.42L220.1 29.92L220.1 34.92Z" fill="#9467bd"/><path d="M220.84 32.43L215.84 29.93L215.84 34.93Z" fill="#9467bd"/><path d="M216.58 32.44L211.58 29.94L211.58 34.94Z" fill="#9467bd"/><path d="M212.32 32.44L207.32 29.94L207.32 34.94Z" fill="#9467bd"/><path d="M208.06 32.45L203.06 29.95L203.06 34.95Z" fill="#9467bd"/><path d="M203.81 32.45L198.81 29.95L198.81 34.95Z" fill="#9467bd"/><path d="M199.55 32.46L194.55 29.96L194.55 34.96Z" fill="#9467bd"/><path d="M195.29 32.47L190.29 29.97L190.29 34.97Z" fill="#9467bd"/><path d="M191.03 32.47L186.03 29.97L186.03 34.97Z" fill="#9467bd"/><path d="M186.77 32.48L181.77 29.98L181.77 34.98Z" fill="#9467bd"/><path d="M182.52 32.49L177.52 29.99L177.52 34.99Z" fill="#9467bd"/><path d="M178.26 32.49L173.26 29.99L173.26 34.99Z" fill="#9467bd"/><path d="M174 32.5L169 30L169 35Z" fill="#9467bd"/><path d="M169.2 80L164.2 77.5L164.2 82.5Z" fill="#9467bd"/><path d="M165.2 127.9L160.2 125.4L160.2 130.4Z" fill="#9467bd"/><path d="M161.6 149L156.6 146.5L156.6 151.5Z" fill="#9467bd"/><path d="M157.1 158L152.1 155.5L152.1 160.5Z" fill="#9467bd"/><path d="M152.8 176L147.8 173.5L147.8 178.5Z" fill="#9467bd"/><path d="M149.6 195.4L144.6 192.9L144.6 197.9Z" fill="#9467bd"/><path d="M146 199.16L141 196.66L141 201.66Z" fill="#9467bd"/><path d="M142 201.6L137 199.1L137 204.1Z" fill="#9467bd"/><path d="M137.74 201.61L132.74 199.11L132.74 204.11Z" fill="#9467bd"/><path d="M133.47 201.62L128.47 199.12L128.47 204.12Z" fill="#9467bd"/><path d="M129.21 201.63L124.21 199.13L124.21 204.13Z" fill="#9467bd"/><path d="M124.95 201.64L119.95 199.14L119.95 204.14Z" fill="#9467bd"/><path d="M120.68 201.65L115.68 199.15L115.68 204.15Z" fill="#9467bd"/><path d="M116.42 201.66L111.42 199.16L111.42 204.16Z" fill="#9467bd"/><path d="M112.16 201.67L107.16 199.17L107.16 204.17Z" fill="#9467bd"/><path d="M107.89 201.68L102.89 199.18L102.89 204.18Z" fill="#9467bd"/><path d="M103.63 201.7L98.63 199.2L98.63 204.2Z" fill="#9467bd"/><path d="M99.37 201.71L94.37 199.21L94.37 204.21Z" fill="#9467bd"/><path d="M95.11 201.72L90.11 199.22L90.11 204.22Z" fill="#9467bd"/><path d="M90.84 201.73L85.84 199.23L85.84 204.23Z" fill="#9467bd"/><path d="M86.58 201.74L81.58 199.24L81.58 204.24Z" fill="#9467bd"/><path d="M82.32 201.75L77.32 199.25L77.32 204.25Z" fill="#9467bd"/><path d="M78.05 201.76L73.05 199.26L73.05 204.26Z" fill="#9467bd"/><path d="M73.79 201.77L68.79 199.27L68.79 204.27Z" fill="#9467bd"/><path d="M69.53 201.78L64.53 199.28L64.53 204.28Z" fill="#9467bd"/><path d="M65.26 201.79L60.26 199.29L60.26 204.29Z" fill="#9467bd"/><path d="M61 201.8L56 199.3L56 204.3Z" fill="#9467bd"/><path d="M61 201.8L56 199.3L56 204.3Z" fill="#9467bd"/><path d="M65.31 201.8L60.31 199.3L60.31 204.3Z" fill="#9467bd"/><path d="M69.62 201.79L64.62 199.29L64.62 204.29Z" fill="#9467bd"/><path d="M73.93 201.79L68.93 199.29L68.93 204.29Z" fill="#9467bd"/><path d="M78.24 201.79L73.24 199.29L73.24 204.29Z" fill="#9467bd"/><path d="M82.55 201.78L77.55 199.28L77.55 204.28Z" fill="#9467bd"/><path d="M86.86 201.78L81.86 199.28L81.86 204.28Z" fill="#9467bd"/><path d="M91.17 201.78L86.17 199.28L86.17 204.28Z" fill="#9467bd"/><path d="M95.48 201.77L90.48 199.27L90.48 204.27Z" fill="#9467bd"/><path d="M99.79 201.77L94.79 199.27L94.79 204.27Z" fill="#9467bd"/><path d="M104.1 201.77L99.1 199.27L99.1 204.27Z" fill="#9467bd"/><path d="M108.41 201.76L103.41 199.26L103.41 204.26Z" fill="#9467bd"/><path d="M112.72 201.76L107.72 199.26L107.72 204.26Z" fill="#9467bd"/><path d="M117.03 201.76L112.03 199.26L112.03 204.26Z" fill="#9467bd"/><path d="M121.34 201.75L116.34 199.25L116.34 204.25Z" fill="#9467bd"/><path d="M125.65 201.75L120.65 199.25L120.65 204.25Z" fill="#9467bd"/><path d="M129.96 201.75L124.96 199.25L124.96 204.25Z" fill="#9467bd"/><path d="M134.27 201.74L129.27 199.24L129.27 204.24Z" fill="#9467bd"/><path d="M138.58 201.74L133.58 199.24L133.58 204.24Z" fill="#9467bd"/><path d="M142.89 201.74L137.89 199.24L137.89 204.24Z" fill="#9467bd"/><path d="M147.2 201.73L142.2 199.23L142.2 204.23Z" fill="#9467bd"/><path d="M151.51 201.73L146.51 199.23L146.51 204.23Z" fill="#9467bd"/><path d="M155.82 201.73L150.82 199.23L150.82 204.23Z" fill="#9467bd"/><path d="M160.13 201.72L155.13 199.22L155.13 204.22Z" fill="#9467bd"/><path d="M164.44 201.72L159.44 199.22L159.44 204.22Z" fill="#9467bd"/><path d="M168.75 201.72L163.75 199.22L163.75 204.22Z" fill="#9467bd"/><path d="M173.06 201.71L168.06 199.21L168.06 204.21Z" fill="#9467bd"/><path d="M177.37 201.71L172.37 199.21L172.37 204.21Z" fill="#9467bd"/><path d="M181.68 201.71L176.68 199.21L176.68 204.21Z" fill="#9467bd"/><path d="M185.99 201.7L180.99 199.2L180.99 204.2Z" fill="#9467bd"/><path d="M190.3 201.7L185.3 199.2L185.3 204.2Z" fill="#9467bd"/><path d="M194.5 196.8L189.5 194.3L189.5 199.3Z" fill="#9467bd"/><path d="M196.3 140.5L191.3 138L191.3 143Z" fill="#9467bd"/><path d="M199.5 95L194.5 92.5L194.5 97.5Z" fill="#9467bd"/><path d="M203.1 64.5L198.1 62L198.1 67Z" fill="#9467bd"/><path d="M207.8 54.4L202.8 51.9L202.8 56.9Z" fill="#9467bd"/><path d="M212.9 41.7L207.9 39.2L207.9 44.2Z" fill="#9467bd"/><path d="M217 33.5L212 31L212 36Z" fill="#9467bd"/><path d="M221.2 32.4L216.2 29.9L216.2 34.9Z" fill="#9467bd"/><path d="M225.44 32.39L220.44 29.89L220.44 34.89Z" fill="#9467bd"/><path d="M229.68 32.39L224.68 29.89L224.68 34.89Z" fill="#9467bd"/><path d="M233.92 32.38L228.92 29.88L228.92 34.88Z" fill="#9467bd"/><path d="M238.16 32.38L233.16 29.88L233.16 34.88Z" fill="#9467bd"/><path d="M242.4 32.37L237.4 29.87L237.4 34.87Z" fill="#9467bd"/><path d="M246.64 32.37L241.64 29.87L241.64 34.87Z" fill="#9467bd"/><path d="M250.88 32.36L245.88 29.86L245.88 34.86Z" fill="#9467bd"/><path d="M255.12 32.36L250.12 29.86L250.12 34.86Z" fill="#9467bd"/><path d="M259.36 32.35L254.36 29.85L254.36 34.85Z" fill="#9467bd"/><path d="M263.6 32.35L258.6 29.85L258.6 34.85Z" fill="#9467bd"/><path d="M267.84 32.34L262.84 29.84L262.84 34.84Z" fill="#9467bd"/><path d="M272.08 32.34L267.08 29.84L267.08 34.84Z" fill="#9467bd"/><path d="M276.32 32.33L271.32 29.83L271.32 34.83Z" fill="#9467bd"/><path d="M280.56 32.33L275.56 29.83L275.56 34.83Z" fill="#9467bd"/><path d="M284.8 32.32L279.8 29.82L279.8 34.82Z" fill="#9467bd"/><path d="M289.04 32.32L284.04 29.82L284.04 34.82Z" fill="#9467bd"/><path d="M293.28 32.31L288.28 29.81L288.28 34.81Z" fill="#9467bd"/><path d="M297.52 32.31L292.52 29.81L292.52 34.81Z" fill="#9467bd"/><path d="M301.76 32.3L296.76 29.8L296.76 34.8Z" fill="#9467bd"/><path d="M306 32.3L301 29.8L301 34.8Z" fill="#9467bd"/></g>
<rect x="46.5" y="9.45" width="269.4" height="209.7" fill="none" stroke="#a4a4a4" stroke-width="1"/>
<line x1="46.5" y1="218.99" x2="49.5" y2="218.99" stroke="#333" stroke-width="0.9"/>
<text x="43.9" y="223.24" font-size="12.5" text-anchor="end" fill="#000" >−0.3</text>
<line x1="46.5" y1="149" x2="49.5" y2="149" stroke="#333" stroke-width="0.9"/>
<text x="43.9" y="153.25" font-size="12.5" text-anchor="end" fill="#000" >0.0</text>
<line x1="46.5" y1="79.01" x2="49.5" y2="79.01" stroke="#333" stroke-width="0.9"/>
<text x="43.9" y="83.26" font-size="12.5" text-anchor="end" fill="#000" >0.3</text>
<line x1="46.5" y1="9.02" x2="49.5" y2="9.02" stroke="#333" stroke-width="0.9"/>
<text x="43.9" y="13.27" font-size="12.5" text-anchor="end" fill="#000" >0.6</text>
<line x1="58.5" y1="219.15" x2="58.5" y2="216.15" stroke="#333" stroke-width="0.9"/>
<text x="58.5" y="229.2" font-size="12.5" text-anchor="middle" fill="#000" >−2</text>
<line x1="119.75" y1="219.15" x2="119.75" y2="216.15" stroke="#333" stroke-width="0.9"/>
<text x="119.75" y="229.2" font-size="12.5" text-anchor="middle" fill="#000" >−1</text>
<line x1="181" y1="219.15" x2="181" y2="216.15" stroke="#333" stroke-width="0.9"/>
<text x="181" y="229.2" font-size="12.5" text-anchor="middle" fill="#000" >0</text>
<line x1="242.25" y1="219.15" x2="242.25" y2="216.15" stroke="#333" stroke-width="0.9"/>
<text x="242.25" y="229.2" font-size="12.5" text-anchor="middle" fill="#000" >1</text>
<line x1="303.5" y1="219.15" x2="303.5" y2="216.15" stroke="#333" stroke-width="0.9"/>
<text x="303.5" y="229.2" font-size="12.5" text-anchor="middle" fill="#000" >2</text>
<text x="180.5" y="242" font-size="12.5" text-anchor="middle" fill="#000" >H(kOe)</text>
<text style="text-rendering:auto" transform="translate(16.2,114.3) rotate(-90)" font-size="13.3" text-anchor="middle"><tspan font-style="italic">R</tspan><tspan font-style="italic" font-size="8.8" dy="2.0">xy</tspan><tspan dy="-2.0">(Ω)</tspan></text>
<text x="2" y="16.1" font-size="19.8" text-anchor="start" fill="#000" >(a)</text>
<rect x="52.6" y="15.6" width="76.8" height="92.1" rx="2" ry="2" fill="#fff" fill-opacity="0.8" stroke="#d5d5d5" stroke-width="1"/>
<line x1="56.9" y1="24.5" x2="83.4" y2="24.5" stroke="#1f77b4" stroke-width="2"/>
<rect x="67.2" y="21.55" width="5.9" height="5.9" fill="#1f77b4"/>
<text x="92.7" y="28.8" font-size="12.5" text-anchor="start" fill="#000" >300 K</text>
<line x1="56.9" y1="42.2" x2="83.4" y2="42.2" stroke="#ff7f0e" stroke-width="2"/>
<circle cx="70.15" cy="42.2" r="2.95" fill="#ff7f0e"/>
<text x="92.7" y="46.5" font-size="12.5" text-anchor="start" fill="#000" >250 K</text>
<line x1="56.9" y1="60.1" x2="83.4" y2="60.1" stroke="#2ca02c" stroke-width="2"/>
<path d="M70.15 56.8L66.85 63.4L73.45 63.4Z" fill="#2ca02c"/>
<text x="92.7" y="64.4" font-size="12.5" text-anchor="start" fill="#000" >200 K</text>
<line x1="56.9" y1="78" x2="83.4" y2="78" stroke="#d62728" stroke-width="2"/>
<path d="M70.15 73.9L74.25 78L70.15 82.1L66.05 78Z" fill="#d62728"/>
<text x="92.7" y="82.3" font-size="12.5" text-anchor="start" fill="#000" >150 K</text>
<line x1="56.9" y1="95.8" x2="83.4" y2="95.8" stroke="#9467bd" stroke-width="2"/>
<path d="M73.1 95.8L67.2 92.85L67.2 98.75Z" fill="#9467bd"/>
<text x="92.7" y="100.1" font-size="12.5" text-anchor="start" fill="#000" >100 K</text>
<polyline points="630.2,26.5 626.3,26.5 622.4,26.5 618.5,26.5 614.6,26.5 610.7,26.5 606.8,26.5 602.9,26.5 599,26.5 595.1,26.5 591.2,26.5 587.3,26.5 583.4,26.5 579.5,26.5 575.6,26.5 571.7,26.5 567.8,26.5 563.9,26.5 560,26.5 556.1,26.5 552.2,26.5 548.3,26.5 544.4,26.5 540.5,26.5 536.6,26.5 532.7,26.5 528.8,26.5 524.9,26.5 521,26.5 517.1,26.5 513.2,26.5 509.3,26.5 505.4,26.5 501.5,26.5 497.6,26.5 493.7,26.5 486.5,26.5 482.1,86.5 478.9,152 474.9,187.8 472.5,208.6 468.6,209.3 464.7,209.3 460.8,209.3 456.9,209.3 453,209.3 449.1,209.3 445.2,209.3 441.3,209.3 437.4,209.3 433.5,209.3 429.6,209.3 425.7,209.3 421.8,209.3 417.9,209.3 414,209.3 410.1,209.3 406.2,209.3 402.3,209.3 398.4,209.3 394.5,209.3 391.6,209.3 395.5,209.3 399.4,209.3 403.3,209.3 407.2,209.3 411.1,209.3 415,209.3 418.9,209.3 422.8,209.3 426.7,209.3 430.6,209.3 434.5,209.3 438.4,209.3 442.3,209.3 446.2,209.3 450.1,209.3 454,209.3 457.9,209.3 461.8,209.3 465.7,209.3 469.6,209.3 473.5,209.3 477.4,209.3 481.3,209.3 485.2,209.3 489.1,209.3 493,209.3 496.9,209.3 500.8,209.3 504.7,209.3 508.6,209.3 512.5,209.3 516.4,209.3 520.3,209.3 524.2,209.3 528.1,209.3 534.1,208.6 536.5,191.9 540.5,150.1 542.9,85.5 545.9,45.4 549.9,33.9 552.8,26.5 556.7,26.5 560.6,26.5 564.5,26.5 568.4,26.5 572.3,26.5 576.2,26.5 580.1,26.5 584,26.5 587.9,26.5 591.8,26.5 595.7,26.5 599.6,26.5 603.5,26.5 607.4,26.5 611.3,26.5 615.2,26.5 619.1,26.5 623,26.5 626.9,26.5" fill="none" stroke="#1f77b4" stroke-width="2.0" stroke-linejoin="round" stroke-linecap="round"/>
<g><rect x="627.7" y="24" width="5" height="5" fill="#1f77b4"/><rect x="623.8" y="24" width="5" height="5" fill="#1f77b4"/><rect x="619.9" y="24" width="5" height="5" fill="#1f77b4"/><rect x="616" y="24" width="5" height="5" fill="#1f77b4"/><rect x="612.1" y="24" width="5" height="5" fill="#1f77b4"/><rect x="608.2" y="24" width="5" height="5" fill="#1f77b4"/><rect x="604.3" y="24" width="5" height="5" fill="#1f77b4"/><rect x="600.4" y="24" width="5" height="5" fill="#1f77b4"/><rect x="596.5" y="24" width="5" height="5" fill="#1f77b4"/><rect x="592.6" y="24" width="5" height="5" fill="#1f77b4"/><rect x="588.7" y="24" width="5" height="5" fill="#1f77b4"/><rect x="584.8" y="24" width="5" height="5" fill="#1f77b4"/><rect x="580.9" y="24" width="5" height="5" fill="#1f77b4"/><rect x="577" y="24" width="5" height="5" fill="#1f77b4"/><rect x="573.1" y="24" width="5" height="5" fill="#1f77b4"/><rect x="569.2" y="24" width="5" height="5" fill="#1f77b4"/><rect x="565.3" y="24" width="5" height="5" fill="#1f77b4"/><rect x="561.4" y="24" width="5" height="5" fill="#1f77b4"/><rect x="557.5" y="24" width="5" height="5" fill="#1f77b4"/><rect x="553.6" y="24" width="5" height="5" fill="#1f77b4"/><rect x="549.7" y="24" width="5" height="5" fill="#1f77b4"/><rect x="545.8" y="24" width="5" height="5" fill="#1f77b4"/><rect x="541.9" y="24" width="5" height="5" fill="#1f77b4"/><rect x="538" y="24" width="5" height="5" fill="#1f77b4"/><rect x="534.1" y="24" width="5" height="5" fill="#1f77b4"/><rect x="530.2" y="24" width="5" height="5" fill="#1f77b4"/><rect x="526.3" y="24" width="5" height="5" fill="#1f77b4"/><rect x="522.4" y="24" width="5" height="5" fill="#1f77b4"/><rect x="518.5" y="24" width="5" height="5" fill="#1f77b4"/><rect x="514.6" y="24" width="5" height="5" fill="#1f77b4"/><rect x="510.7" y="24" width="5" height="5" fill="#1f77b4"/><rect x="506.8" y="24" width="5" height="5" fill="#1f77b4"/><rect x="502.9" y="24" width="5" height="5" fill="#1f77b4"/><rect x="499" y="24" width="5" height="5" fill="#1f77b4"/><rect x="495.1" y="24" width="5" height="5" fill="#1f77b4"/><rect x="491.2" y="24" width="5" height="5" fill="#1f77b4"/><rect x="484" y="24" width="5" height="5" fill="#1f77b4"/><rect x="479.6" y="84" width="5" height="5" fill="#1f77b4"/><rect x="476.4" y="149.5" width="5" height="5" fill="#1f77b4"/><rect x="472.4" y="185.3" width="5" height="5" fill="#1f77b4"/><rect x="470" y="206.1" width="5" height="5" fill="#1f77b4"/><rect x="466.1" y="206.8" width="5" height="5" fill="#1f77b4"/><rect x="462.2" y="206.8" width="5" height="5" fill="#1f77b4"/><rect x="458.3" y="206.8" width="5" height="5" fill="#1f77b4"/><rect x="454.4" y="206.8" width="5" height="5" fill="#1f77b4"/><rect x="450.5" y="206.8" width="5" height="5" fill="#1f77b4"/><rect x="446.6" y="206.8" width="5" height="5" fill="#1f77b4"/><rect x="442.7" y="206.8" width="5" height="5" fill="#1f77b4"/><rect x="438.8" y="206.8" width="5" height="5" fill="#1f77b4"/><rect x="434.9" y="206.8" width="5" height="5" fill="#1f77b4"/><rect x="431" y="206.8" width="5" height="5" fill="#1f77b4"/><rect x="427.1" y="206.8" width="5" height="5" fill="#1f77b4"/><rect x="423.2" y="206.8" width="5" height="5" fill="#1f77b4"/><rect x="419.3" y="206.8" width="5" height="5" fill="#1f77b4"/><rect x="415.4" y="206.8" width="5" height="5" fill="#1f77b4"/><rect x="411.5" y="206.8" width="5" height="5" fill="#1f77b4"/><rect x="407.6" y="206.8" width="5" height="5" fill="#1f77b4"/><rect x="403.7" y="206.8" width="5" height="5" fill="#1f77b4"/><rect x="399.8" y="206.8" width="5" height="5" fill="#1f77b4"/><rect x="395.9" y="206.8" width="5" height="5" fill="#1f77b4"/><rect x="392" y="206.8" width="5" height="5" fill="#1f77b4"/><rect x="389.1" y="206.8" width="5" height="5" fill="#1f77b4"/><rect x="393" y="206.8" width="5" height="5" fill="#1f77b4"/><rect x="396.9" y="206.8" width="5" height="5" fill="#1f77b4"/><rect x="400.8" y="206.8" width="5" height="5" fill="#1f77b4"/><rect x="404.7" y="206.8" width="5" height="5" fill="#1f77b4"/><rect x="408.6" y="206.8" width="5" height="5" fill="#1f77b4"/><rect x="412.5" y="206.8" width="5" height="5" fill="#1f77b4"/><rect x="416.4" y="206.8" width="5" height="5" fill="#1f77b4"/><rect x="420.3" y="206.8" width="5" height="5" fill="#1f77b4"/><rect x="424.2" y="206.8" width="5" height="5" fill="#1f77b4"/><rect x="428.1" y="206.8" width="5" height="5" fill="#1f77b4"/><rect x="432" y="206.8" width="5" height="5" fill="#1f77b4"/><rect x="435.9" y="206.8" width="5" height="5" fill="#1f77b4"/><rect x="439.8" y="206.8" width="5" height="5" fill="#1f77b4"/><rect x="443.7" y="206.8" width="5" height="5" fill="#1f77b4"/><rect x="447.6" y="206.8" width="5" height="5" fill="#1f77b4"/><rect x="451.5" y="206.8" width="5" height="5" fill="#1f77b4"/><rect x="455.4" y="206.8" width="5" height="5" fill="#1f77b4"/><rect x="459.3" y="206.8" width="5" height="5" fill="#1f77b4"/><rect x="463.2" y="206.8" width="5" height="5" fill="#1f77b4"/><rect x="467.1" y="206.8" width="5" height="5" fill="#1f77b4"/><rect x="471" y="206.8" width="5" height="5" fill="#1f77b4"/><rect x="474.9" y="206.8" width="5" height="5" fill="#1f77b4"/><rect x="478.8" y="206.8" width="5" height="5" fill="#1f77b4"/><rect x="482.7" y="206.8" width="5" height="5" fill="#1f77b4"/><rect x="486.6" y="206.8" width="5" height="5" fill="#1f77b4"/><rect x="490.5" y="206.8" width="5" height="5" fill="#1f77b4"/><rect x="494.4" y="206.8" width="5" height="5" fill="#1f77b4"/><rect x="498.3" y="206.8" width="5" height="5" fill="#1f77b4"/><rect x="502.2" y="206.8" width="5" height="5" fill="#1f77b4"/><rect x="506.1" y="206.8" width="5" height="5" fill="#1f77b4"/><rect x="510" y="206.8" width="5" height="5" fill="#1f77b4"/><rect x="513.9" y="206.8" width="5" height="5" fill="#1f77b4"/><rect x="517.8" y="206.8" width="5" height="5" fill="#1f77b4"/><rect x="521.7" y="206.8" width="5" height="5" fill="#1f77b4"/><rect x="525.6" y="206.8" width="5" height="5" fill="#1f77b4"/><rect x="531.6" y="206.1" width="5" height="5" fill="#1f77b4"/><rect x="534" y="189.4" width="5" height="5" fill="#1f77b4"/><rect x="538" y="147.6" width="5" height="5" fill="#1f77b4"/><rect x="540.4" y="83" width="5" height="5" fill="#1f77b4"/><rect x="543.4" y="42.9" width="5" height="5" fill="#1f77b4"/><rect x="547.4" y="31.4" width="5" height="5" fill="#1f77b4"/><rect x="550.3" y="24" width="5" height="5" fill="#1f77b4"/><rect x="554.2" y="24" width="5" height="5" fill="#1f77b4"/><rect x="558.1" y="24" width="5" height="5" fill="#1f77b4"/><rect x="562" y="24" width="5" height="5" fill="#1f77b4"/><rect x="565.9" y="24" width="5" height="5" fill="#1f77b4"/><rect x="569.8" y="24" width="5" height="5" fill="#1f77b4"/><rect x="573.7" y="24" width="5" height="5" fill="#1f77b4"/><rect x="577.6" y="24" width="5" height="5" fill="#1f77b4"/><rect x="581.5" y="24" width="5" height="5" fill="#1f77b4"/><rect x="585.4" y="24" width="5" height="5" fill="#1f77b4"/><rect x="589.3" y="24" width="5" height="5" fill="#1f77b4"/><rect x="593.2" y="24" width="5" height="5" fill="#1f77b4"/><rect x="597.1" y="24" width="5" height="5" fill="#1f77b4"/><rect x="601" y="24" width="5" height="5" fill="#1f77b4"/><rect x="604.9" y="24" width="5" height="5" fill="#1f77b4"/><rect x="608.8" y="24" width="5" height="5" fill="#1f77b4"/><rect x="612.7" y="24" width="5" height="5" fill="#1f77b4"/><rect x="616.6" y="24" width="5" height="5" fill="#1f77b4"/><rect x="620.5" y="24" width="5" height="5" fill="#1f77b4"/><rect x="624.4" y="24" width="5" height="5" fill="#1f77b4"/></g>
<polyline points="630.2,25.2 626.3,25.2 622.4,25.2 618.5,25.2 614.6,25.2 610.7,25.2 606.8,25.2 602.9,25.2 599,25.2 595.1,25.2 591.2,25.2 587.3,25.2 583.4,25.2 579.5,25.2 575.6,25.2 571.7,25.2 567.8,25.2 563.9,25.2 560,25.2 556.1,25.2 552.2,25.2 548.3,25.2 544.4,25.2 540.5,25.2 536.6,25.2 532.7,25.2 528.8,25.2 524.9,25.2 521,25.2 517.1,25.2 513.2,25.2 509.3,25.2 505.4,25.2 501.5,25.2 497.6,25.2 493.7,25.2 489.8,25.2 483.2,25.5 482.9,27.1 479.8,33.8 476.6,35.9 473.3,84 468.2,164 465.3,190.7 460.5,205 458.6,209 454.7,209.5 450.8,209.5 446.9,209.5 443,209.5 439.1,209.5 435.2,209.5 431.3,209.5 427.4,209.5 423.5,209.5 419.6,209.5 415.7,209.5 411.8,209.5 407.9,209.5 404,209.5 400.1,209.5 396.2,209.5 392.3,209.5 391.6,209.5 395.5,209.5 399.4,209.5 403.3,209.5 407.2,209.5 411.1,209.5 415,209.5 418.9,209.5 422.8,209.5 426.7,209.5 430.6,209.5 434.5,209.5 438.4,209.5 442.3,209.5 446.2,209.5 450.1,209.5 454,209.5 457.9,209.5 461.8,209.5 465.7,209.5 469.6,209.5 473.5,209.5 477.4,209.5 481.3,209.5 485.2,209.5 489.1,209.5 493,209.5 496.9,209.5 500.8,209.5 504.7,209.5 508.6,209.5 512.5,209.5 516.4,209.5 520.3,209.5 524.2,209.5 528.1,209.5 532,209.5 535.9,209.5 539.8,209 542.2,199 546.5,188.3 550.8,108.4 554.4,69.6 558.4,42.2 561.8,25.5 565.7,25.2 569.6,25.2 573.5,25.2 577.4,25.2 581.3,25.2 585.2,25.2 589.1,25.2 593,25.2 596.9,25.2 600.8,25.2 604.7,25.2 608.6,25.2 612.5,25.2 616.4,25.2 620.3,25.2 624.2,25.2 628.1,25.2" fill="none" stroke="#ff7f0e" stroke-width="2.0" stroke-linejoin="round" stroke-linecap="round"/>
<g><circle cx="630.2" cy="25.2" r="2.6" fill="#ff7f0e"/><circle cx="626.3" cy="25.2" r="2.6" fill="#ff7f0e"/><circle cx="622.4" cy="25.2" r="2.6" fill="#ff7f0e"/><circle cx="618.5" cy="25.2" r="2.6" fill="#ff7f0e"/><circle cx="614.6" cy="25.2" r="2.6" fill="#ff7f0e"/><circle cx="610.7" cy="25.2" r="2.6" fill="#ff7f0e"/><circle cx="606.8" cy="25.2" r="2.6" fill="#ff7f0e"/><circle cx="602.9" cy="25.2" r="2.6" fill="#ff7f0e"/><circle cx="599" cy="25.2" r="2.6" fill="#ff7f0e"/><circle cx="595.1" cy="25.2" r="2.6" fill="#ff7f0e"/><circle cx="591.2" cy="25.2" r="2.6" fill="#ff7f0e"/><circle cx="587.3" cy="25.2" r="2.6" fill="#ff7f0e"/><circle cx="583.4" cy="25.2" r="2.6" fill="#ff7f0e"/><circle cx="579.5" cy="25.2" r="2.6" fill="#ff7f0e"/><circle cx="575.6" cy="25.2" r="2.6" fill="#ff7f0e"/><circle cx="571.7" cy="25.2" r="2.6" fill="#ff7f0e"/><circle cx="567.8" cy="25.2" r="2.6" fill="#ff7f0e"/><circle cx="563.9" cy="25.2" r="2.6" fill="#ff7f0e"/><circle cx="560" cy="25.2" r="2.6" fill="#ff7f0e"/><circle cx="556.1" cy="25.2" r="2.6" fill="#ff7f0e"/><circle cx="552.2" cy="25.2" r="2.6" fill="#ff7f0e"/><circle cx="548.3" cy="25.2" r="2.6" fill="#ff7f0e"/><circle cx="544.4" cy="25.2" r="2.6" fill="#ff7f0e"/><circle cx="540.5" cy="25.2" r="2.6" fill="#ff7f0e"/><circle cx="536.6" cy="25.2" r="2.6" fill="#ff7f0e"/><circle cx="532.7" cy="25.2" r="2.6" fill="#ff7f0e"/><circle cx="528.8" cy="25.2" r="2.6" fill="#ff7f0e"/><circle cx="524.9" cy="25.2" r="2.6" fill="#ff7f0e"/><circle cx="521" cy="25.2" r="2.6" fill="#ff7f0e"/><circle cx="517.1" cy="25.2" r="2.6" fill="#ff7f0e"/><circle cx="513.2" cy="25.2" r="2.6" fill="#ff7f0e"/><circle cx="509.3" cy="25.2" r="2.6" fill="#ff7f0e"/><circle cx="505.4" cy="25.2" r="2.6" fill="#ff7f0e"/><circle cx="501.5" cy="25.2" r="2.6" fill="#ff7f0e"/><circle cx="497.6" cy="25.2" r="2.6" fill="#ff7f0e"/><circle cx="493.7" cy="25.2" r="2.6" fill="#ff7f0e"/><circle cx="489.8" cy="25.2" r="2.6" fill="#ff7f0e"/><circle cx="483.2" cy="25.5" r="2.6" fill="#ff7f0e"/><circle cx="482.9" cy="27.1" r="2.6" fill="#ff7f0e"/><circle cx="479.8" cy="33.8" r="2.6" fill="#ff7f0e"/><circle cx="476.6" cy="35.9" r="2.6" fill="#ff7f0e"/><circle cx="473.3" cy="84" r="2.6" fill="#ff7f0e"/><circle cx="468.2" cy="164" r="2.6" fill="#ff7f0e"/><circle cx="465.3" cy="190.7" r="2.6" fill="#ff7f0e"/><circle cx="460.5" cy="205" r="2.6" fill="#ff7f0e"/><circle cx="458.6" cy="209" r="2.6" fill="#ff7f0e"/><circle cx="454.7" cy="209.5" r="2.6" fill="#ff7f0e"/><circle cx="450.8" cy="209.5" r="2.6" fill="#ff7f0e"/><circle cx="446.9" cy="209.5" r="2.6" fill="#ff7f0e"/><circle cx="443" cy="209.5" r="2.6" fill="#ff7f0e"/><circle cx="439.1" cy="209.5" r="2.6" fill="#ff7f0e"/><circle cx="435.2" cy="209.5" r="2.6" fill="#ff7f0e"/><circle cx="431.3" cy="209.5" r="2.6" fill="#ff7f0e"/><circle cx="427.4" cy="209.5" r="2.6" fill="#ff7f0e"/><circle cx="423.5" cy="209.5" r="2.6" fill="#ff7f0e"/><circle cx="419.6" cy="209.5" r="2.6" fill="#ff7f0e"/><circle cx="415.7" cy="209.5" r="2.6" fill="#ff7f0e"/><circle cx="411.8" cy="209.5" r="2.6" fill="#ff7f0e"/><circle cx="407.9" cy="209.5" r="2.6" fill="#ff7f0e"/><circle cx="404" cy="209.5" r="2.6" fill="#ff7f0e"/><circle cx="400.1" cy="209.5" r="2.6" fill="#ff7f0e"/><circle cx="396.2" cy="209.5" r="2.6" fill="#ff7f0e"/><circle cx="392.3" cy="209.5" r="2.6" fill="#ff7f0e"/><circle cx="391.6" cy="209.5" r="2.6" fill="#ff7f0e"/><circle cx="395.5" cy="209.5" r="2.6" fill="#ff7f0e"/><circle cx="399.4" cy="209.5" r="2.6" fill="#ff7f0e"/><circle cx="403.3" cy="209.5" r="2.6" fill="#ff7f0e"/><circle cx="407.2" cy="209.5" r="2.6" fill="#ff7f0e"/><circle cx="411.1" cy="209.5" r="2.6" fill="#ff7f0e"/><circle cx="415" cy="209.5" r="2.6" fill="#ff7f0e"/><circle cx="418.9" cy="209.5" r="2.6" fill="#ff7f0e"/><circle cx="422.8" cy="209.5" r="2.6" fill="#ff7f0e"/><circle cx="426.7" cy="209.5" r="2.6" fill="#ff7f0e"/><circle cx="430.6" cy="209.5" r="2.6" fill="#ff7f0e"/><circle cx="434.5" cy="209.5" r="2.6" fill="#ff7f0e"/><circle cx="438.4" cy="209.5" r="2.6" fill="#ff7f0e"/><circle cx="442.3" cy="209.5" r="2.6" fill="#ff7f0e"/><circle cx="446.2" cy="209.5" r="2.6" fill="#ff7f0e"/><circle cx="450.1" cy="209.5" r="2.6" fill="#ff7f0e"/><circle cx="454" cy="209.5" r="2.6" fill="#ff7f0e"/><circle cx="457.9" cy="209.5" r="2.6" fill="#ff7f0e"/><circle cx="461.8" cy="209.5" r="2.6" fill="#ff7f0e"/><circle cx="465.7" cy="209.5" r="2.6" fill="#ff7f0e"/><circle cx="469.6" cy="209.5" r="2.6" fill="#ff7f0e"/><circle cx="473.5" cy="209.5" r="2.6" fill="#ff7f0e"/><circle cx="477.4" cy="209.5" r="2.6" fill="#ff7f0e"/><circle cx="481.3" cy="209.5" r="2.6" fill="#ff7f0e"/><circle cx="485.2" cy="209.5" r="2.6" fill="#ff7f0e"/><circle cx="489.1" cy="209.5" r="2.6" fill="#ff7f0e"/><circle cx="493" cy="209.5" r="2.6" fill="#ff7f0e"/><circle cx="496.9" cy="209.5" r="2.6" fill="#ff7f0e"/><circle cx="500.8" cy="209.5" r="2.6" fill="#ff7f0e"/><circle cx="504.7" cy="209.5" r="2.6" fill="#ff7f0e"/><circle cx="508.6" cy="209.5" r="2.6" fill="#ff7f0e"/><circle cx="512.5" cy="209.5" r="2.6" fill="#ff7f0e"/><circle cx="516.4" cy="209.5" r="2.6" fill="#ff7f0e"/><circle cx="520.3" cy="209.5" r="2.6" fill="#ff7f0e"/><circle cx="524.2" cy="209.5" r="2.6" fill="#ff7f0e"/><circle cx="528.1" cy="209.5" r="2.6" fill="#ff7f0e"/><circle cx="532" cy="209.5" r="2.6" fill="#ff7f0e"/><circle cx="535.9" cy="209.5" r="2.6" fill="#ff7f0e"/><circle cx="539.8" cy="209" r="2.6" fill="#ff7f0e"/><circle cx="542.2" cy="199" r="2.6" fill="#ff7f0e"/><circle cx="546.5" cy="188.3" r="2.6" fill="#ff7f0e"/><circle cx="550.8" cy="108.4" r="2.6" fill="#ff7f0e"/><circle cx="554.4" cy="69.6" r="2.6" fill="#ff7f0e"/><circle cx="558.4" cy="42.2" r="2.6" fill="#ff7f0e"/><circle cx="561.8" cy="25.5" r="2.6" fill="#ff7f0e"/><circle cx="565.7" cy="25.2" r="2.6" fill="#ff7f0e"/><circle cx="569.6" cy="25.2" r="2.6" fill="#ff7f0e"/><circle cx="573.5" cy="25.2" r="2.6" fill="#ff7f0e"/><circle cx="577.4" cy="25.2" r="2.6" fill="#ff7f0e"/><circle cx="581.3" cy="25.2" r="2.6" fill="#ff7f0e"/><circle cx="585.2" cy="25.2" r="2.6" fill="#ff7f0e"/><circle cx="589.1" cy="25.2" r="2.6" fill="#ff7f0e"/><circle cx="593" cy="25.2" r="2.6" fill="#ff7f0e"/><circle cx="596.9" cy="25.2" r="2.6" fill="#ff7f0e"/><circle cx="600.8" cy="25.2" r="2.6" fill="#ff7f0e"/><circle cx="604.7" cy="25.2" r="2.6" fill="#ff7f0e"/><circle cx="608.6" cy="25.2" r="2.6" fill="#ff7f0e"/><circle cx="612.5" cy="25.2" r="2.6" fill="#ff7f0e"/><circle cx="616.4" cy="25.2" r="2.6" fill="#ff7f0e"/><circle cx="620.3" cy="25.2" r="2.6" fill="#ff7f0e"/><circle cx="624.2" cy="25.2" r="2.6" fill="#ff7f0e"/><circle cx="628.1" cy="25.2" r="2.6" fill="#ff7f0e"/></g>
<polyline points="630.2,24.8 626.3,24.8 622.4,24.8 618.5,24.8 614.6,24.8 610.7,24.8 606.8,24.8 602.9,24.8 599,24.8 595.1,24.8 591.2,24.8 587.3,24.8 583.4,24.8 579.5,24.8 575.6,24.8 571.7,24.8 567.8,24.8 563.9,24.8 560,24.8 556.1,24.8 552.2,24.8 548.3,24.8 544.4,24.8 540.5,24.8 536.6,24.8 532.7,24.8 528.8,24.8 524.9,24.8 521,24.8 517.1,24.8 513.2,24.8 509.3,24.8 505.4,24.8 501.5,24.8 497.6,24.8 493.7,24.8 489.8,24.8 485.9,24.8 479.7,25 478.9,26.6 475.8,33.8 471.3,35.1 468.2,51.7 463.8,100.5 459.8,135.8 456.3,171.6 453.9,176.4 449.1,196.7 447.2,209 443.3,209.6 439.4,209.6 435.5,209.6 431.6,209.6 427.7,209.6 423.8,209.6 419.9,209.6 416,209.6 412.1,209.6 408.2,209.6 404.3,209.6 400.4,209.6 396.5,209.6 392.6,209.6 391.6,209.6 395.5,209.6 399.4,209.6 403.3,209.6 407.2,209.6 411.1,209.6 415,209.6 418.9,209.6 422.8,209.6 426.7,209.6 430.6,209.6 434.5,209.6 438.4,209.6 442.3,209.6 446.2,209.6 450.1,209.6 454,209.6 457.9,209.6 461.8,209.6 465.7,209.6 469.6,209.6 473.5,209.6 477.4,209.6 481.3,209.6 485.2,209.6 489.1,209.6 493,209.6 496.9,209.6 500.8,209.6 504.7,209.6 508.6,209.6 512.5,209.6 516.4,209.6 520.3,209.6 524.2,209.6 528.1,209.6 532,209.6 539.3,209 548.9,200.2 555.5,178.8 559.6,117.9 561.8,83.2 566.4,50.8 569.7,44.2 573.7,25 577.6,24.8 581.5,24.8 585.4,24.8 589.3,24.8 593.2,24.8 597.1,24.8 601,24.8 604.9,24.8 608.8,24.8 612.7,24.8 616.6,24.8 620.5,24.8 624.4,24.8 628.3,24.8" fill="none" stroke="#2ca02c" stroke-width="2.0" stroke-linejoin="round" stroke-linecap="round"/>
<g><path d="M630.2 22.1L627.5 27.5L632.9 27.5Z" fill="#2ca02c"/><path d="M626.3 22.1L623.6 27.5L629 27.5Z" fill="#2ca02c"/><path d="M622.4 22.1L619.7 27.5L625.1 27.5Z" fill="#2ca02c"/><path d="M618.5 22.1L615.8 27.5L621.2 27.5Z" fill="#2ca02c"/><path d="M614.6 22.1L611.9 27.5L617.3 27.5Z" fill="#2ca02c"/><path d="M610.7 22.1L608 27.5L613.4 27.5Z" fill="#2ca02c"/><path d="M606.8 22.1L604.1 27.5L609.5 27.5Z" fill="#2ca02c"/><path d="M602.9 22.1L600.2 27.5L605.6 27.5Z" fill="#2ca02c"/><path d="M599 22.1L596.3 27.5L601.7 27.5Z" fill="#2ca02c"/><path d="M595.1 22.1L592.4 27.5L597.8 27.5Z" fill="#2ca02c"/><path d="M591.2 22.1L588.5 27.5L593.9 27.5Z" fill="#2ca02c"/><path d="M587.3 22.1L584.6 27.5L590 27.5Z" fill="#2ca02c"/><path d="M583.4 22.1L580.7 27.5L586.1 27.5Z" fill="#2ca02c"/><path d="M579.5 22.1L576.8 27.5L582.2 27.5Z" fill="#2ca02c"/><path d="M575.6 22.1L572.9 27.5L578.3 27.5Z" fill="#2ca02c"/><path d="M571.7 22.1L569 27.5L574.4 27.5Z" fill="#2ca02c"/><path d="M567.8 22.1L565.1 27.5L570.5 27.5Z" fill="#2ca02c"/><path d="M563.9 22.1L561.2 27.5L566.6 27.5Z" fill="#2ca02c"/><path d="M560 22.1L557.3 27.5L562.7 27.5Z" fill="#2ca02c"/><path d="M556.1 22.1L553.4 27.5L558.8 27.5Z" fill="#2ca02c"/><path d="M552.2 22.1L549.5 27.5L554.9 27.5Z" fill="#2ca02c"/><path d="M548.3 22.1L545.6 27.5L551 27.5Z" fill="#2ca02c"/><path d="M544.4 22.1L541.7 27.5L547.1 27.5Z" fill="#2ca02c"/><path d="M540.5 22.1L537.8 27.5L543.2 27.5Z" fill="#2ca02c"/><path d="M536.6 22.1L533.9 27.5L539.3 27.5Z" fill="#2ca02c"/><path d="M532.7 22.1L530 27.5L535.4 27.5Z" fill="#2ca02c"/><path d="M528.8 22.1L526.1 27.5L531.5 27.5Z" fill="#2ca02c"/><path d="M524.9 22.1L522.2 27.5L527.6 27.5Z" fill="#2ca02c"/><path d="M521 22.1L518.3 27.5L523.7 27.5Z" fill="#2ca02c"/><path d="M517.1 22.1L514.4 27.5L519.8 27.5Z" fill="#2ca02c"/><path d="M513.2 22.1L510.5 27.5L515.9 27.5Z" fill="#2ca02c"/><path d="M509.3 22.1L506.6 27.5L512 27.5Z" fill="#2ca02c"/><path d="M505.4 22.1L502.7 27.5L508.1 27.5Z" fill="#2ca02c"/><path d="M501.5 22.1L498.8 27.5L504.2 27.5Z" fill="#2ca02c"/><path d="M497.6 22.1L494.9 27.5L500.3 27.5Z" fill="#2ca02c"/><path d="M493.7 22.1L491 27.5L496.4 27.5Z" fill="#2ca02c"/><path d="M489.8 22.1L487.1 27.5L492.5 27.5Z" fill="#2ca02c"/><path d="M485.9 22.1L483.2 27.5L488.6 27.5Z" fill="#2ca02c"/><path d="M479.7 22.3L477 27.7L482.4 27.7Z" fill="#2ca02c"/><path d="M478.9 23.9L476.2 29.3L481.6 29.3Z" fill="#2ca02c"/><path d="M475.8 31.1L473.1 36.5L478.5 36.5Z" fill="#2ca02c"/><path d="M471.3 32.4L468.6 37.8L474 37.8Z" fill="#2ca02c"/><path d="M468.2 49L465.5 54.4L470.9 54.4Z" fill="#2ca02c"/><path d="M463.8 97.8L461.1 103.2L466.5 103.2Z" fill="#2ca02c"/><path d="M459.8 133.1L457.1 138.5L462.5 138.5Z" fill="#2ca02c"/><path d="M456.3 168.9L453.6 174.3L459 174.3Z" fill="#2ca02c"/><path d="M453.9 173.7L451.2 179.1L456.6 179.1Z" fill="#2ca02c"/><path d="M449.1 194L446.4 199.4L451.8 199.4Z" fill="#2ca02c"/><path d="M447.2 206.3L444.5 211.7L449.9 211.7Z" fill="#2ca02c"/><path d="M443.3 206.9L440.6 212.3L446 212.3Z" fill="#2ca02c"/><path d="M439.4 206.9L436.7 212.3L442.1 212.3Z" fill="#2ca02c"/><path d="M435.5 206.9L432.8 212.3L438.2 212.3Z" fill="#2ca02c"/><path d="M431.6 206.9L428.9 212.3L434.3 212.3Z" fill="#2ca02c"/><path d="M427.7 206.9L425 212.3L430.4 212.3Z" fill="#2ca02c"/><path d="M423.8 206.9L421.1 212.3L426.5 212.3Z" fill="#2ca02c"/><path d="M419.9 206.9L417.2 212.3L422.6 212.3Z" fill="#2ca02c"/><path d="M416 206.9L413.3 212.3L418.7 212.3Z" fill="#2ca02c"/><path d="M412.1 206.9L409.4 212.3L414.8 212.3Z" fill="#2ca02c"/><path d="M408.2 206.9L405.5 212.3L410.9 212.3Z" fill="#2ca02c"/><path d="M404.3 206.9L401.6 212.3L407 212.3Z" fill="#2ca02c"/><path d="M400.4 206.9L397.7 212.3L403.1 212.3Z" fill="#2ca02c"/><path d="M396.5 206.9L393.8 212.3L399.2 212.3Z" fill="#2ca02c"/><path d="M392.6 206.9L389.9 212.3L395.3 212.3Z" fill="#2ca02c"/><path d="M391.6 206.9L388.9 212.3L394.3 212.3Z" fill="#2ca02c"/><path d="M395.5 206.9L392.8 212.3L398.2 212.3Z" fill="#2ca02c"/><path d="M399.4 206.9L396.7 212.3L402.1 212.3Z" fill="#2ca02c"/><path d="M403.3 206.9L400.6 212.3L406 212.3Z" fill="#2ca02c"/><path d="M407.2 206.9L404.5 212.3L409.9 212.3Z" fill="#2ca02c"/><path d="M411.1 206.9L408.4 212.3L413.8 212.3Z" fill="#2ca02c"/><path d="M415 206.9L412.3 212.3L417.7 212.3Z" fill="#2ca02c"/><path d="M418.9 206.9L416.2 212.3L421.6 212.3Z" fill="#2ca02c"/><path d="M422.8 206.9L420.1 212.3L425.5 212.3Z" fill="#2ca02c"/><path d="M426.7 206.9L424 212.3L429.4 212.3Z" fill="#2ca02c"/><path d="M430.6 206.9L427.9 212.3L433.3 212.3Z" fill="#2ca02c"/><path d="M434.5 206.9L431.8 212.3L437.2 212.3Z" fill="#2ca02c"/><path d="M438.4 206.9L435.7 212.3L441.1 212.3Z" fill="#2ca02c"/><path d="M442.3 206.9L439.6 212.3L445 212.3Z" fill="#2ca02c"/><path d="M446.2 206.9L443.5 212.3L448.9 212.3Z" fill="#2ca02c"/><path d="M450.1 206.9L447.4 212.3L452.8 212.3Z" fill="#2ca02c"/><path d="M454 206.9L451.3 212.3L456.7 212.3Z" fill="#2ca02c"/><path d="M457.9 206.9L455.2 212.3L460.6 212.3Z" fill="#2ca02c"/><path d="M461.8 206.9L459.1 212.3L464.5 212.3Z" fill="#2ca02c"/><path d="M465.7 206.9L463 212.3L468.4 212.3Z" fill="#2ca02c"/><path d="M469.6 206.9L466.9 212.3L472.3 212.3Z" fill="#2ca02c"/><path d="M473.5 206.9L470.8 212.3L476.2 212.3Z" fill="#2ca02c"/><path d="M477.4 206.9L474.7 212.3L480.1 212.3Z" fill="#2ca02c"/><path d="M481.3 206.9L478.6 212.3L484 212.3Z" fill="#2ca02c"/><path d="M485.2 206.9L482.5 212.3L487.9 212.3Z" fill="#2ca02c"/><path d="M489.1 206.9L486.4 212.3L491.8 212.3Z" fill="#2ca02c"/><path d="M493 206.9L490.3 212.3L495.7 212.3Z" fill="#2ca02c"/><path d="M496.9 206.9L494.2 212.3L499.6 212.3Z" fill="#2ca02c"/><path d="M500.8 206.9L498.1 212.3L503.5 212.3Z" fill="#2ca02c"/><path d="M504.7 206.9L502 212.3L507.4 212.3Z" fill="#2ca02c"/><path d="M508.6 206.9L505.9 212.3L511.3 212.3Z" fill="#2ca02c"/><path d="M512.5 206.9L509.8 212.3L515.2 212.3Z" fill="#2ca02c"/><path d="M516.4 206.9L513.7 212.3L519.1 212.3Z" fill="#2ca02c"/><path d="M520.3 206.9L517.6 212.3L523 212.3Z" fill="#2ca02c"/><path d="M524.2 206.9L521.5 212.3L526.9 212.3Z" fill="#2ca02c"/><path d="M528.1 206.9L525.4 212.3L530.8 212.3Z" fill="#2ca02c"/><path d="M532 206.9L529.3 212.3L534.7 212.3Z" fill="#2ca02c"/><path d="M539.3 206.3L536.6 211.7L542 211.7Z" fill="#2ca02c"/><path d="M548.9 197.5L546.2 202.9L551.6 202.9Z" fill="#2ca02c"/><path d="M555.5 176.1L552.8 181.5L558.2 181.5Z" fill="#2ca02c"/><path d="M559.6 115.2L556.9 120.6L562.3 120.6Z" fill="#2ca02c"/><path d="M561.8 80.5L559.1 85.9L564.5 85.9Z" fill="#2ca02c"/><path d="M566.4 48.1L563.7 53.5L569.1 53.5Z" fill="#2ca02c"/><path d="M569.7 41.5L567 46.9L572.4 46.9Z" fill="#2ca02c"/><path d="M573.7 22.3L571 27.7L576.4 27.7Z" fill="#2ca02c"/><path d="M577.6 22.1L574.9 27.5L580.3 27.5Z" fill="#2ca02c"/><path d="M581.5 22.1L578.8 27.5L584.2 27.5Z" fill="#2ca02c"/><path d="M585.4 22.1L582.7 27.5L588.1 27.5Z" fill="#2ca02c"/><path d="M589.3 22.1L586.6 27.5L592 27.5Z" fill="#2ca02c"/><path d="M593.2 22.1L590.5 27.5L595.9 27.5Z" fill="#2ca02c"/><path d="M597.1 22.1L594.4 27.5L599.8 27.5Z" fill="#2ca02c"/><path d="M601 22.1L598.3 27.5L603.7 27.5Z" fill="#2ca02c"/><path d="M604.9 22.1L602.2 27.5L607.6 27.5Z" fill="#2ca02c"/><path d="M608.8 22.1L606.1 27.5L611.5 27.5Z" fill="#2ca02c"/><path d="M612.7 22.1L610 27.5L615.4 27.5Z" fill="#2ca02c"/><path d="M616.6 22.1L613.9 27.5L619.3 27.5Z" fill="#2ca02c"/><path d="M620.5 22.1L617.8 27.5L623.2 27.5Z" fill="#2ca02c"/><path d="M624.4 22.1L621.7 27.5L627.1 27.5Z" fill="#2ca02c"/><path d="M628.3 22.1L625.6 27.5L631 27.5Z" fill="#2ca02c"/></g>
<polyline points="630.2,23.8 626.3,23.8 622.4,23.8 618.5,23.8 614.6,23.8 610.7,23.8 606.8,23.8 602.9,23.8 599,23.8 595.1,23.8 591.2,23.8 587.3,23.8 583.4,23.8 579.5,23.8 575.6,23.8 571.7,23.8 567.8,23.8 563.9,23.8 560,23.8 556.1,23.8 552.2,23.8 548.3,23.8 544.4,23.8 540.5,23.8 536.6,23.8 532.7,23.8 528.8,23.8 524.9,23.8 521,23.8 517.1,23.8 513.2,23.8 509.3,23.8 505.4,23.8 501.5,23.8 497.6,23.8 493.7,23.8 489.8,23.8 485.9,23.8 482,23.8 476.2,23.6 474.4,26.6 471.8,29.8 469.5,31.5 466.8,32.4 464.6,33.3 460.8,77.6 457.8,95.1 453.9,131 451,181.6 445.5,181.6 443.1,209 439.2,210 435.3,210 431.4,210 427.5,210 423.6,210 419.7,210 415.8,210 411.9,210 408,210 404.1,210 400.2,210 396.3,210 392.4,210 391.6,210 395.5,210 399.4,210 403.3,210 407.2,210 411.1,210 415,210 418.9,210 422.8,210 426.7,210 430.6,210 434.5,210 438.4,210 442.3,210 446.2,210 450.1,210 454,210 457.9,210 461.8,210 465.7,210 469.6,210 473.5,210 477.4,210 481.3,210 485.2,210 489.1,210 493,210 496.9,210 500.8,210 504.7,210 508.6,210 512.5,210 516.4,210 520.3,210 524.2,210 528.1,210 532,210 535.9,210 539.8,210 546.5,207.4 550.1,200.2 553.6,191.2 558.4,175.9 562,135.3 565.8,87.5 570.7,56.7 574.3,51.4 577.7,28.9 581.6,23.8 585.5,23.8 589.4,23.8 593.3,23.8 597.2,23.8 601.1,23.8 605,23.8 608.9,23.8 612.8,23.8 616.7,23.8 620.6,23.8 624.5,23.8 628.4,23.8" fill="none" stroke="#d62728" stroke-width="2.0" stroke-linejoin="round" stroke-linecap="round"/>
<g><path d="M630.2 20.08L633.92 23.8L630.2 27.52L626.48 23.8Z" fill="#d62728"/><path d="M626.3 20.08L630.02 23.8L626.3 27.52L622.58 23.8Z" fill="#d62728"/><path d="M622.4 20.08L626.12 23.8L622.4 27.52L618.68 23.8Z" fill="#d62728"/><path d="M618.5 20.08L622.22 23.8L618.5 27.52L614.78 23.8Z" fill="#d62728"/><path d="M614.6 20.08L618.32 23.8L614.6 27.52L610.88 23.8Z" fill="#d62728"/><path d="M610.7 20.08L614.42 23.8L610.7 27.52L606.98 23.8Z" fill="#d62728"/><path d="M606.8 20.08L610.52 23.8L606.8 27.52L603.08 23.8Z" fill="#d62728"/><path d="M602.9 20.08L606.62 23.8L602.9 27.52L599.18 23.8Z" fill="#d62728"/><path d="M599 20.08L602.72 23.8L599 27.52L595.28 23.8Z" fill="#d62728"/><path d="M595.1 20.08L598.82 23.8L595.1 27.52L591.38 23.8Z" fill="#d62728"/><path d="M591.2 20.08L594.92 23.8L591.2 27.52L587.48 23.8Z" fill="#d62728"/><path d="M587.3 20.08L591.02 23.8L587.3 27.52L583.58 23.8Z" fill="#d62728"/><path d="M583.4 20.08L587.12 23.8L583.4 27.52L579.68 23.8Z" fill="#d62728"/><path d="M579.5 20.08L583.22 23.8L579.5 27.52L575.78 23.8Z" fill="#d62728"/><path d="M575.6 20.08L579.32 23.8L575.6 27.52L571.88 23.8Z" fill="#d62728"/><path d="M571.7 20.08L575.42 23.8L571.7 27.52L567.98 23.8Z" fill="#d62728"/><path d="M567.8 20.08L571.52 23.8L567.8 27.52L564.08 23.8Z" fill="#d62728"/><path d="M563.9 20.08L567.62 23.8L563.9 27.52L560.18 23.8Z" fill="#d62728"/><path d="M560 20.08L563.72 23.8L560 27.52L556.28 23.8Z" fill="#d62728"/><path d="M556.1 20.08L559.82 23.8L556.1 27.52L552.38 23.8Z" fill="#d62728"/><path d="M552.2 20.08L555.92 23.8L552.2 27.52L548.48 23.8Z" fill="#d62728"/><path d="M548.3 20.08L552.02 23.8L548.3 27.52L544.58 23.8Z" fill="#d62728"/><path d="M544.4 20.08L548.12 23.8L544.4 27.52L540.68 23.8Z" fill="#d62728"/><path d="M540.5 20.08L544.22 23.8L540.5 27.52L536.78 23.8Z" fill="#d62728"/><path d="M536.6 20.08L540.32 23.8L536.6 27.52L532.88 23.8Z" fill="#d62728"/><path d="M532.7 20.08L536.42 23.8L532.7 27.52L528.98 23.8Z" fill="#d62728"/><path d="M528.8 20.08L532.52 23.8L528.8 27.52L525.08 23.8Z" fill="#d62728"/><path d="M524.9 20.08L528.62 23.8L524.9 27.52L521.18 23.8Z" fill="#d62728"/><path d="M521 20.08L524.72 23.8L521 27.52L517.28 23.8Z" fill="#d62728"/><path d="M517.1 20.08L520.82 23.8L517.1 27.52L513.38 23.8Z" fill="#d62728"/><path d="M513.2 20.08L516.92 23.8L513.2 27.52L509.48 23.8Z" fill="#d62728"/><path d="M509.3 20.08L513.02 23.8L509.3 27.52L505.58 23.8Z" fill="#d62728"/><path d="M505.4 20.08L509.12 23.8L505.4 27.52L501.68 23.8Z" fill="#d62728"/><path d="M501.5 20.08L505.22 23.8L501.5 27.52L497.78 23.8Z" fill="#d62728"/><path d="M497.6 20.08L501.32 23.8L497.6 27.52L493.88 23.8Z" fill="#d62728"/><path d="M493.7 20.08L497.42 23.8L493.7 27.52L489.98 23.8Z" fill="#d62728"/><path d="M489.8 20.08L493.52 23.8L489.8 27.52L486.08 23.8Z" fill="#d62728"/><path d="M485.9 20.08L489.62 23.8L485.9 27.52L482.18 23.8Z" fill="#d62728"/><path d="M482 20.08L485.72 23.8L482 27.52L478.28 23.8Z" fill="#d62728"/><path d="M476.2 19.88L479.92 23.6L476.2 27.32L472.48 23.6Z" fill="#d62728"/><path d="M474.4 22.88L478.12 26.6L474.4 30.32L470.68 26.6Z" fill="#d62728"/><path d="M471.8 26.08L475.52 29.8L471.8 33.52L468.08 29.8Z" fill="#d62728"/><path d="M469.5 27.78L473.22 31.5L469.5 35.22L465.78 31.5Z" fill="#d62728"/><path d="M466.8 28.68L470.52 32.4L466.8 36.12L463.08 32.4Z" fill="#d62728"/><path d="M464.6 29.58L468.32 33.3L464.6 37.02L460.88 33.3Z" fill="#d62728"/><path d="M460.8 73.88L464.52 77.6L460.8 81.32L457.08 77.6Z" fill="#d62728"/><path d="M457.8 91.38L461.52 95.1L457.8 98.82L454.08 95.1Z" fill="#d62728"/><path d="M453.9 127.28L457.62 131L453.9 134.72L450.18 131Z" fill="#d62728"/><path d="M451 177.88L454.72 181.6L451 185.32L447.28 181.6Z" fill="#d62728"/><path d="M445.5 177.88L449.22 181.6L445.5 185.32L441.78 181.6Z" fill="#d62728"/><path d="M443.1 205.28L446.82 209L443.1 212.72L439.38 209Z" fill="#d62728"/><path d="M439.2 206.28L442.92 210L439.2 213.72L435.48 210Z" fill="#d62728"/><path d="M435.3 206.28L439.02 210L435.3 213.72L431.58 210Z" fill="#d62728"/><path d="M431.4 206.28L435.12 210L431.4 213.72L427.68 210Z" fill="#d62728"/><path d="M427.5 206.28L431.22 210L427.5 213.72L423.78 210Z" fill="#d62728"/><path d="M423.6 206.28L427.32 210L423.6 213.72L419.88 210Z" fill="#d62728"/><path d="M419.7 206.28L423.42 210L419.7 213.72L415.98 210Z" fill="#d62728"/><path d="M415.8 206.28L419.52 210L415.8 213.72L412.08 210Z" fill="#d62728"/><path d="M411.9 206.28L415.62 210L411.9 213.72L408.18 210Z" fill="#d62728"/><path d="M408 206.28L411.72 210L408 213.72L404.28 210Z" fill="#d62728"/><path d="M404.1 206.28L407.82 210L404.1 213.72L400.38 210Z" fill="#d62728"/><path d="M400.2 206.28L403.92 210L400.2 213.72L396.48 210Z" fill="#d62728"/><path d="M396.3 206.28L400.02 210L396.3 213.72L392.58 210Z" fill="#d62728"/><path d="M392.4 206.28L396.12 210L392.4 213.72L388.68 210Z" fill="#d62728"/><path d="M391.6 206.28L395.32 210L391.6 213.72L387.88 210Z" fill="#d62728"/><path d="M395.5 206.28L399.22 210L395.5 213.72L391.78 210Z" fill="#d62728"/><path d="M399.4 206.28L403.12 210L399.4 213.72L395.68 210Z" fill="#d62728"/><path d="M403.3 206.28L407.02 210L403.3 213.72L399.58 210Z" fill="#d62728"/><path d="M407.2 206.28L410.92 210L407.2 213.72L403.48 210Z" fill="#d62728"/><path d="M411.1 206.28L414.82 210L411.1 213.72L407.38 210Z" fill="#d62728"/><path d="M415 206.28L418.72 210L415 213.72L411.28 210Z" fill="#d62728"/><path d="M418.9 206.28L422.62 210L418.9 213.72L415.18 210Z" fill="#d62728"/><path d="M422.8 206.28L426.52 210L422.8 213.72L419.08 210Z" fill="#d62728"/><path d="M426.7 206.28L430.42 210L426.7 213.72L422.98 210Z" fill="#d62728"/><path d="M430.6 206.28L434.32 210L430.6 213.72L426.88 210Z" fill="#d62728"/><path d="M434.5 206.28L438.22 210L434.5 213.72L430.78 210Z" fill="#d62728"/><path d="M438.4 206.28L442.12 210L438.4 213.72L434.68 210Z" fill="#d62728"/><path d="M442.3 206.28L446.02 210L442.3 213.72L438.58 210Z" fill="#d62728"/><path d="M446.2 206.28L449.92 210L446.2 213.72L442.48 210Z" fill="#d62728"/><path d="M450.1 206.28L453.82 210L450.1 213.72L446.38 210Z" fill="#d62728"/><path d="M454 206.28L457.72 210L454 213.72L450.28 210Z" fill="#d62728"/><path d="M457.9 206.28L461.62 210L457.9 213.72L454.18 210Z" fill="#d62728"/><path d="M461.8 206.28L465.52 210L461.8 213.72L458.08 210Z" fill="#d62728"/><path d="M465.7 206.28L469.42 210L465.7 213.72L461.98 210Z" fill="#d62728"/><path d="M469.6 206.28L473.32 210L469.6 213.72L465.88 210Z" fill="#d62728"/><path d="M473.5 206.28L477.22 210L473.5 213.72L469.78 210Z" fill="#d62728"/><path d="M477.4 206.28L481.12 210L477.4 213.72L473.68 210Z" fill="#d62728"/><path d="M481.3 206.28L485.02 210L481.3 213.72L477.58 210Z" fill="#d62728"/><path d="M485.2 206.28L488.92 210L485.2 213.72L481.48 210Z" fill="#d62728"/><path d="M489.1 206.28L492.82 210L489.1 213.72L485.38 210Z" fill="#d62728"/><path d="M493 206.28L496.72 210L493 213.72L489.28 210Z" fill="#d62728"/><path d="M496.9 206.28L500.62 210L496.9 213.72L493.18 210Z" fill="#d62728"/><path d="M500.8 206.28L504.52 210L500.8 213.72L497.08 210Z" fill="#d62728"/><path d="M504.7 206.28L508.42 210L504.7 213.72L500.98 210Z" fill="#d62728"/><path d="M508.6 206.28L512.32 210L508.6 213.72L504.88 210Z" fill="#d62728"/><path d="M512.5 206.28L516.22 210L512.5 213.72L508.78 210Z" fill="#d62728"/><path d="M516.4 206.28L520.12 210L516.4 213.72L512.68 210Z" fill="#d62728"/><path d="M520.3 206.28L524.02 210L520.3 213.72L516.58 210Z" fill="#d62728"/><path d="M524.2 206.28L527.92 210L524.2 213.72L520.48 210Z" fill="#d62728"/><path d="M528.1 206.28L531.82 210L528.1 213.72L524.38 210Z" fill="#d62728"/><path d="M532 206.28L535.72 210L532 213.72L528.28 210Z" fill="#d62728"/><path d="M535.9 206.28L539.62 210L535.9 213.72L532.18 210Z" fill="#d62728"/><path d="M539.8 206.28L543.52 210L539.8 213.72L536.08 210Z" fill="#d62728"/><path d="M546.5 203.68L550.22 207.4L546.5 211.12L542.78 207.4Z" fill="#d62728"/><path d="M550.1 196.48L553.82 200.2L550.1 203.92L546.38 200.2Z" fill="#d62728"/><path d="M553.6 187.48L557.32 191.2L553.6 194.92L549.88 191.2Z" fill="#d62728"/><path d="M558.4 172.18L562.12 175.9L558.4 179.62L554.68 175.9Z" fill="#d62728"/><path d="M562 131.58L565.72 135.3L562 139.02L558.28 135.3Z" fill="#d62728"/><path d="M565.8 83.78L569.52 87.5L565.8 91.22L562.08 87.5Z" fill="#d62728"/><path d="M570.7 52.98L574.42 56.7L570.7 60.42L566.98 56.7Z" fill="#d62728"/><path d="M574.3 47.68L578.02 51.4L574.3 55.12L570.58 51.4Z" fill="#d62728"/><path d="M577.7 25.18L581.42 28.9L577.7 32.62L573.98 28.9Z" fill="#d62728"/><path d="M581.6 20.08L585.32 23.8L581.6 27.52L577.88 23.8Z" fill="#d62728"/><path d="M585.5 20.08L589.22 23.8L585.5 27.52L581.78 23.8Z" fill="#d62728"/><path d="M589.4 20.08L593.12 23.8L589.4 27.52L585.68 23.8Z" fill="#d62728"/><path d="M593.3 20.08L597.02 23.8L593.3 27.52L589.58 23.8Z" fill="#d62728"/><path d="M597.2 20.08L600.92 23.8L597.2 27.52L593.48 23.8Z" fill="#d62728"/><path d="M601.1 20.08L604.82 23.8L601.1 27.52L597.38 23.8Z" fill="#d62728"/><path d="M605 20.08L608.72 23.8L605 27.52L601.28 23.8Z" fill="#d62728"/><path d="M608.9 20.08L612.62 23.8L608.9 27.52L605.18 23.8Z" fill="#d62728"/><path d="M612.8 20.08L616.52 23.8L612.8 27.52L609.08 23.8Z" fill="#d62728"/><path d="M616.7 20.08L620.42 23.8L616.7 27.52L612.98 23.8Z" fill="#d62728"/><path d="M620.6 20.08L624.32 23.8L620.6 27.52L616.88 23.8Z" fill="#d62728"/><path d="M624.5 20.08L628.22 23.8L624.5 27.52L620.78 23.8Z" fill="#d62728"/><path d="M628.4 20.08L632.12 23.8L628.4 27.52L624.68 23.8Z" fill="#d62728"/></g>
<rect x="378.6" y="13.5" width="264.8" height="205.95" fill="none" stroke="#a4a4a4" stroke-width="1"/>
<line x1="378.6" y1="214.8" x2="381.6" y2="214.8" stroke="#333" stroke-width="0.9"/>
<text x="376" y="218.95" font-size="12.2" text-anchor="end" fill="#000" >−0.3</text>
<line x1="378.6" y1="147.6" x2="381.6" y2="147.6" stroke="#333" stroke-width="0.9"/>
<text x="376" y="151.75" font-size="12.2" text-anchor="end" fill="#000" >0.0</text>
<line x1="378.6" y1="80.4" x2="381.6" y2="80.4" stroke="#333" stroke-width="0.9"/>
<text x="376" y="84.55" font-size="12.2" text-anchor="end" fill="#000" >0.3</text>
<line x1="378.6" y1="13.2" x2="381.6" y2="13.2" stroke="#333" stroke-width="0.9"/>
<text x="376" y="17.35" font-size="12.2" text-anchor="end" fill="#000" >0.6</text>
<line x1="378.5" y1="219.45" x2="378.5" y2="216.45" stroke="#333" stroke-width="0.9"/>
<text x="378.5" y="229.8" font-size="12.2" text-anchor="middle" fill="#000" >−10</text>
<line x1="444.7" y1="219.45" x2="444.7" y2="216.45" stroke="#333" stroke-width="0.9"/>
<text x="444.7" y="229.8" font-size="12.2" text-anchor="middle" fill="#000" >−5</text>
<line x1="510.9" y1="219.45" x2="510.9" y2="216.45" stroke="#333" stroke-width="0.9"/>
<text x="510.9" y="229.8" font-size="12.2" text-anchor="middle" fill="#000" >0</text>
<line x1="577.1" y1="219.45" x2="577.1" y2="216.45" stroke="#333" stroke-width="0.9"/>
<text x="577.1" y="229.8" font-size="12.2" text-anchor="middle" fill="#000" >5</text>
<line x1="643.3" y1="219.45" x2="643.3" y2="216.45" stroke="#333" stroke-width="0.9"/>
<text x="643.3" y="229.8" font-size="12.2" text-anchor="middle" fill="#000" >10</text>
<text x="511" y="242" font-size="12" text-anchor="middle" fill="#000" >H(kOe)</text>
<text style="text-rendering:auto" transform="translate(348.8,116.6) rotate(-90)" font-size="13" text-anchor="middle"><tspan font-style="italic">R</tspan><tspan font-style="italic" font-size="8.6" dy="2.0">xy</tspan><tspan dy="-2.0">(Ω)</tspan></text>
<text x="334.2" y="15.95" font-size="19.8" text-anchor="start" fill="#000" >(b)</text>
<rect x="384.8" y="19.8" width="69.8" height="72.8" rx="2" ry="2" fill="#fff" fill-opacity="0.8" stroke="#d5d5d5" stroke-width="1"/>
<line x1="389.1" y1="29.1" x2="415.6" y2="29.1" stroke="#1f77b4" stroke-width="2"/>
<rect x="399.4" y="26.15" width="5.9" height="5.9" fill="#1f77b4"/>
<text x="424.9" y="33.4" font-size="12.2" text-anchor="start" fill="#000" >20 K</text>
<line x1="389.1" y1="46.5" x2="415.6" y2="46.5" stroke="#ff7f0e" stroke-width="2"/>
<circle cx="402.35" cy="46.5" r="2.95" fill="#ff7f0e"/>
<text x="424.9" y="50.8" font-size="12.2" text-anchor="start" fill="#000" >14 K</text>
<line x1="389.1" y1="64" x2="415.6" y2="64" stroke="#2ca02c" stroke-width="2"/>
<path d="M402.35 60.7L399.05 67.3L405.65 67.3Z" fill="#2ca02c"/>
<text x="424.9" y="68.3" font-size="12.2" text-anchor="start" fill="#000" >8 K</text>
<line x1="389.1" y1="81" x2="415.6" y2="81" stroke="#d62728" stroke-width="2"/>
<path d="M402.35 76.9L406.45 81L402.35 85.1L398.25 81Z" fill="#d62728"/>
<text x="424.9" y="85.3" font-size="12.2" text-anchor="start" fill="#000" >2 K</text>
<polyline points="55.3,436.5 75.3,423.2 94.1,410.9 118.4,393.4 140.5,370.8 158.1,343.2 178,321.3 196.7,315.1 214.9,315.1 233.8,315.1 255.6,315.1 274.5,315.1 292.4,315.1" fill="none" stroke="#1f77b4" stroke-width="2.1" stroke-linejoin="round" stroke-linecap="round"/>
<g><rect x="52.55" y="433.75" width="5.5" height="5.5" fill="#1f77b4"/><rect x="72.55" y="420.45" width="5.5" height="5.5" fill="#1f77b4"/><rect x="91.35" y="408.15" width="5.5" height="5.5" fill="#1f77b4"/><rect x="115.65" y="390.65" width="5.5" height="5.5" fill="#1f77b4"/><rect x="137.75" y="368.05" width="5.5" height="5.5" fill="#1f77b4"/><rect x="155.35" y="340.45" width="5.5" height="5.5" fill="#1f77b4"/><rect x="175.25" y="318.55" width="5.5" height="5.5" fill="#1f77b4"/><rect x="193.95" y="312.35" width="5.5" height="5.5" fill="#1f77b4"/><rect x="212.15" y="312.35" width="5.5" height="5.5" fill="#1f77b4"/><rect x="231.05" y="312.35" width="5.5" height="5.5" fill="#1f77b4"/><rect x="252.85" y="312.35" width="5.5" height="5.5" fill="#1f77b4"/><rect x="271.75" y="312.35" width="5.5" height="5.5" fill="#1f77b4"/><rect x="289.65" y="312.35" width="5.5" height="5.5" fill="#1f77b4"/></g>
<polyline points="57.8,443.5 76.6,428 94,412.5 109.2,397.6 126.7,343.3 142.2,300.8 158.9,299.3 174.7,299.3 192,299.3 213,299.3 229.3,299.3 249,299.3 268,299.3 287.9,299.3 304.2,299.3" fill="none" stroke="#ff7f0e" stroke-width="2.1" stroke-linejoin="round" stroke-linecap="round"/>
<g><circle cx="57.8" cy="443.5" r="2.7" fill="#ff7f0e"/><circle cx="76.6" cy="428" r="2.7" fill="#ff7f0e"/><circle cx="94" cy="412.5" r="2.7" fill="#ff7f0e"/><circle cx="109.2" cy="397.6" r="2.7" fill="#ff7f0e"/><circle cx="126.7" cy="343.3" r="2.7" fill="#ff7f0e"/><circle cx="142.2" cy="300.8" r="2.7" fill="#ff7f0e"/><circle cx="158.9" cy="299.3" r="2.7" fill="#ff7f0e"/><circle cx="174.7" cy="299.3" r="2.7" fill="#ff7f0e"/><circle cx="192" cy="299.3" r="2.7" fill="#ff7f0e"/><circle cx="213" cy="299.3" r="2.7" fill="#ff7f0e"/><circle cx="229.3" cy="299.3" r="2.7" fill="#ff7f0e"/><circle cx="249" cy="299.3" r="2.7" fill="#ff7f0e"/><circle cx="268" cy="299.3" r="2.7" fill="#ff7f0e"/><circle cx="287.9" cy="299.3" r="2.7" fill="#ff7f0e"/><circle cx="304.2" cy="299.3" r="2.7" fill="#ff7f0e"/></g>
<polyline points="78.6,434.7 95.4,419.2 115.4,341.3 132.7,285.4 153.1,285.4 168.9,285.4 184.7,285.4 201.7,285.4 218.3,285.4 235.9,285.4 251.7,285.4 268.2,285.4 287.7,285.4 306.8,285.4" fill="none" stroke="#2ca02c" stroke-width="2.1" stroke-linejoin="round" stroke-linecap="round"/>
<g><path d="M78.6 431.7L75.6 437.7L81.6 437.7Z" fill="#2ca02c"/><path d="M95.4 416.2L92.4 422.2L98.4 422.2Z" fill="#2ca02c"/><path d="M115.4 338.3L112.4 344.3L118.4 344.3Z" fill="#2ca02c"/><path d="M132.7 282.4L129.7 288.4L135.7 288.4Z" fill="#2ca02c"/><path d="M153.1 282.4L150.1 288.4L156.1 288.4Z" fill="#2ca02c"/><path d="M168.9 282.4L165.9 288.4L171.9 288.4Z" fill="#2ca02c"/><path d="M184.7 282.4L181.7 288.4L187.7 288.4Z" fill="#2ca02c"/><path d="M201.7 282.4L198.7 288.4L204.7 288.4Z" fill="#2ca02c"/><path d="M218.3 282.4L215.3 288.4L221.3 288.4Z" fill="#2ca02c"/><path d="M235.9 282.4L232.9 288.4L238.9 288.4Z" fill="#2ca02c"/><path d="M251.7 282.4L248.7 288.4L254.7 288.4Z" fill="#2ca02c"/><path d="M268.2 282.4L265.2 288.4L271.2 288.4Z" fill="#2ca02c"/><path d="M287.7 282.4L284.7 288.4L290.7 288.4Z" fill="#2ca02c"/><path d="M306.8 282.4L303.8 288.4L309.8 288.4Z" fill="#2ca02c"/></g>
<polyline points="77.1,456.3 91.6,406.4 109.1,323.5 127.5,272.5 147.4,272.5 167.1,272.5 184.1,272.5 203.8,272.5 224.1,272.5 243.8,272.5 260.3,272.5 276.1,272.5 289.8,272.5 306.1,272.5" fill="none" stroke="#d62728" stroke-width="2.1" stroke-linejoin="round" stroke-linecap="round"/>
<g><path d="M77.1 452.58L80.82 456.3L77.1 460.02L73.38 456.3Z" fill="#d62728"/><path d="M91.6 402.68L95.32 406.4L91.6 410.12L87.88 406.4Z" fill="#d62728"/><path d="M109.1 319.78L112.82 323.5L109.1 327.22L105.38 323.5Z" fill="#d62728"/><path d="M127.5 268.78L131.22 272.5L127.5 276.22L123.78 272.5Z" fill="#d62728"/><path d="M147.4 268.78L151.12 272.5L147.4 276.22L143.68 272.5Z" fill="#d62728"/><path d="M167.1 268.78L170.82 272.5L167.1 276.22L163.38 272.5Z" fill="#d62728"/><path d="M184.1 268.78L187.82 272.5L184.1 276.22L180.38 272.5Z" fill="#d62728"/><path d="M203.8 268.78L207.52 272.5L203.8 276.22L200.08 272.5Z" fill="#d62728"/><path d="M224.1 268.78L227.82 272.5L224.1 276.22L220.38 272.5Z" fill="#d62728"/><path d="M243.8 268.78L247.52 272.5L243.8 276.22L240.08 272.5Z" fill="#d62728"/><path d="M260.3 268.78L264.02 272.5L260.3 276.22L256.58 272.5Z" fill="#d62728"/><path d="M276.1 268.78L279.82 272.5L276.1 276.22L272.38 272.5Z" fill="#d62728"/><path d="M289.8 268.78L293.52 272.5L289.8 276.22L286.08 272.5Z" fill="#d62728"/><path d="M306.1 268.78L309.82 272.5L306.1 276.22L302.38 272.5Z" fill="#d62728"/></g>
<polyline points="57,435.2 72.1,403.9 89,305.6 108.7,261.2 124,261.2 139.7,261.2 154.6,261.2 171,261.2 191.2,261.2 210.4,261.2 229.3,261.2 247.7,261.2 266.1,261.2 284.5,261.2 301.6,261.2" fill="none" stroke="#9467bd" stroke-width="2.1" stroke-linejoin="round" stroke-linecap="round"/>
<g><path d="M59.5 435.2L54.5 432.7L54.5 437.7Z" fill="#9467bd"/><path d="M74.6 403.9L69.6 401.4L69.6 406.4Z" fill="#9467bd"/><path d="M91.5 305.6L86.5 303.1L86.5 308.1Z" fill="#9467bd"/><path d="M111.2 261.2L106.2 258.7L106.2 263.7Z" fill="#9467bd"/><path d="M126.5 261.2L121.5 258.7L121.5 263.7Z" fill="#9467bd"/><path d="M142.2 261.2L137.2 258.7L137.2 263.7Z" fill="#9467bd"/><path d="M157.1 261.2L152.1 258.7L152.1 263.7Z" fill="#9467bd"/><path d="M173.5 261.2L168.5 258.7L168.5 263.7Z" fill="#9467bd"/><path d="M193.7 261.2L188.7 258.7L188.7 263.7Z" fill="#9467bd"/><path d="M212.9 261.2L207.9 258.7L207.9 263.7Z" fill="#9467bd"/><path d="M231.8 261.2L226.8 258.7L226.8 263.7Z" fill="#9467bd"/><path d="M250.2 261.2L245.2 258.7L245.2 263.7Z" fill="#9467bd"/><path d="M268.6 261.2L263.6 258.7L263.6 263.7Z" fill="#9467bd"/><path d="M287 261.2L282 258.7L282 263.7Z" fill="#9467bd"/><path d="M304.1 261.2L299.1 258.7L299.1 263.7Z" fill="#9467bd"/></g>
<rect x="43.5" y="251.5" width="276" height="214.85" fill="none" stroke="#a4a4a4" stroke-width="1"/>
<line x1="43.5" y1="433.3" x2="46.5" y2="433.3" stroke="#333" stroke-width="0.9"/>
<text x="40.9" y="437.65" font-size="12.8" text-anchor="end" fill="#000" >0.0</text>
<line x1="43.5" y1="398.82" x2="46.5" y2="398.82" stroke="#333" stroke-width="0.9"/>
<text x="40.9" y="403.17" font-size="12.8" text-anchor="end" fill="#000" >0.1</text>
<line x1="43.5" y1="364.34" x2="46.5" y2="364.34" stroke="#333" stroke-width="0.9"/>
<text x="40.9" y="368.69" font-size="12.8" text-anchor="end" fill="#000" >0.2</text>
<line x1="43.5" y1="329.86" x2="46.5" y2="329.86" stroke="#333" stroke-width="0.9"/>
<text x="40.9" y="334.21" font-size="12.8" text-anchor="end" fill="#000" >0.3</text>
<line x1="43.5" y1="295.38" x2="46.5" y2="295.38" stroke="#333" stroke-width="0.9"/>
<text x="40.9" y="299.73" font-size="12.8" text-anchor="end" fill="#000" >0.4</text>
<line x1="43.5" y1="260.9" x2="46.5" y2="260.9" stroke="#333" stroke-width="0.9"/>
<text x="40.9" y="265.25" font-size="12.8" text-anchor="end" fill="#000" >0.5</text>
<line x1="93.8" y1="466.35" x2="93.8" y2="463.35" stroke="#333" stroke-width="0.9"/>
<text x="93.8" y="476.5" font-size="12.8" text-anchor="middle" fill="#000" >−200</text>
<line x1="144.8" y1="466.35" x2="144.8" y2="463.35" stroke="#333" stroke-width="0.9"/>
<text x="144.8" y="476.5" font-size="12.8" text-anchor="middle" fill="#000" >0</text>
<line x1="195.8" y1="466.35" x2="195.8" y2="463.35" stroke="#333" stroke-width="0.9"/>
<text x="195.8" y="476.5" font-size="12.8" text-anchor="middle" fill="#000" >200</text>
<line x1="246.8" y1="466.35" x2="246.8" y2="463.35" stroke="#333" stroke-width="0.9"/>
<text x="246.8" y="476.5" font-size="12.8" text-anchor="middle" fill="#000" >400</text>
<line x1="297.8" y1="466.35" x2="297.8" y2="463.35" stroke="#333" stroke-width="0.9"/>
<text x="297.8" y="476.5" font-size="12.8" text-anchor="middle" fill="#000" >600</text>
<text x="181.5" y="489.9" font-size="12.7" text-anchor="middle" fill="#000" >H(Oe)</text>
<text style="text-rendering:auto" transform="translate(18.5,358.9) rotate(-90)" font-size="13.4" text-anchor="middle"><tspan font-style="italic">R</tspan><tspan font-style="italic" font-size="8.8" dy="2.0">xy</tspan><tspan dy="-2.0">(Ω)</tspan></text>
<text x="2" y="259.1" font-size="19.8" text-anchor="start" fill="#000" >(c)</text>
<rect x="234.4" y="365.3" width="78.3" height="93.7" rx="2" ry="2" fill="#fff" fill-opacity="0.8" stroke="#d5d5d5" stroke-width="1"/>
<line x1="238.3" y1="374.7" x2="265.7" y2="374.7" stroke="#1f77b4" stroke-width="2"/>
<rect x="249.05" y="371.75" width="5.9" height="5.9" fill="#1f77b4"/>
<text x="275.3" y="379" font-size="12.8" text-anchor="start" fill="#000" >300 K</text>
<line x1="238.3" y1="392.9" x2="265.7" y2="392.9" stroke="#ff7f0e" stroke-width="2"/>
<circle cx="252" cy="392.9" r="2.95" fill="#ff7f0e"/>
<text x="275.3" y="397.2" font-size="12.8" text-anchor="start" fill="#000" >250 K</text>
<line x1="238.3" y1="411.3" x2="265.7" y2="411.3" stroke="#2ca02c" stroke-width="2"/>
<path d="M252 408L248.7 414.6L255.3 414.6Z" fill="#2ca02c"/>
<text x="275.3" y="415.6" font-size="12.8" text-anchor="start" fill="#000" >200 K</text>
<line x1="238.3" y1="429.4" x2="265.7" y2="429.4" stroke="#d62728" stroke-width="2"/>
<path d="M252 425.3L256.1 429.4L252 433.5L247.9 429.4Z" fill="#d62728"/>
<text x="275.3" y="433.7" font-size="12.8" text-anchor="start" fill="#000" >150 K</text>
<line x1="238.3" y1="447.4" x2="265.7" y2="447.4" stroke="#9467bd" stroke-width="2"/>
<path d="M254.95 447.4L249.05 444.45L249.05 450.35Z" fill="#9467bd"/>
<text x="275.3" y="451.7" font-size="12.8" text-anchor="start" fill="#000" >100 K</text>
<polyline points="388.5,263 393.9,265.6 399.3,265.4 404.4,268.6 426.3,281.8 452,296.2 469.5,311.5 473.9,343.7 517.6,344 560.6,411.2 604.6,451.9 647.7,451.9" fill="none" stroke="#1f77b4" stroke-width="2.1" stroke-linejoin="round" stroke-linecap="round"/>
<g><circle cx="388.5" cy="263" r="2.5" fill="#1f77b4"/><circle cx="393.9" cy="265.6" r="2.5" fill="#1f77b4"/><circle cx="399.3" cy="265.4" r="2.5" fill="#1f77b4"/><circle cx="404.4" cy="268.6" r="2.5" fill="#1f77b4"/><circle cx="426.3" cy="281.8" r="2.5" fill="#1f77b4"/><circle cx="452" cy="296.2" r="2.5" fill="#1f77b4"/><circle cx="469.5" cy="311.5" r="2.5" fill="#1f77b4"/><circle cx="473.9" cy="343.7" r="2.5" fill="#1f77b4"/><circle cx="517.6" cy="344" r="2.5" fill="#1f77b4"/><circle cx="560.6" cy="411.2" r="2.5" fill="#1f77b4"/><circle cx="604.6" cy="451.9" r="2.5" fill="#1f77b4"/><circle cx="647.7" cy="451.9" r="2.5" fill="#1f77b4"/></g>
<polyline points="388.5,263 393.9,272.8 399.3,304.7 404.4,343.5 426.2,408.7 452.2,423.2 469.6,438.3 474,440 517.6,442.3 560.6,444.9 604.6,446.9 647.7,451.9" fill="none" stroke="#d62728" stroke-width="2.1" stroke-linejoin="round" stroke-linecap="round"/>
<g><rect x="385.8" y="260.3" width="5.4" height="5.4" fill="#d62728"/><rect x="391.2" y="270.1" width="5.4" height="5.4" fill="#d62728"/><rect x="396.6" y="302" width="5.4" height="5.4" fill="#d62728"/><rect x="401.7" y="340.8" width="5.4" height="5.4" fill="#d62728"/><rect x="423.5" y="406" width="5.4" height="5.4" fill="#d62728"/><rect x="449.5" y="420.5" width="5.4" height="5.4" fill="#d62728"/><rect x="466.9" y="435.6" width="5.4" height="5.4" fill="#d62728"/><rect x="471.3" y="437.3" width="5.4" height="5.4" fill="#d62728"/><rect x="514.9" y="439.6" width="5.4" height="5.4" fill="#d62728"/><rect x="557.9" y="442.2" width="5.4" height="5.4" fill="#d62728"/><rect x="601.9" y="444.2" width="5.4" height="5.4" fill="#d62728"/><rect x="645" y="449.2" width="5.4" height="5.4" fill="#d62728"/></g>
<rect x="375.5" y="253.5" width="285.1" height="207.95" fill="none" stroke="#a4a4a4" stroke-width="1"/>
<line x1="375.5" y1="451.1" x2="378.5" y2="451.1" stroke="#1f77b4" stroke-width="0.9"/>
<text x="373.8" y="455.18" font-size="12" text-anchor="end" fill="#1f77b4" >0.35</text>
<line x1="375.5" y1="405.3" x2="378.5" y2="405.3" stroke="#1f77b4" stroke-width="0.9"/>
<text x="373.8" y="409.38" font-size="12" text-anchor="end" fill="#1f77b4" >0.40</text>
<line x1="375.5" y1="359.5" x2="378.5" y2="359.5" stroke="#1f77b4" stroke-width="0.9"/>
<text x="373.8" y="363.58" font-size="12" text-anchor="end" fill="#1f77b4" >0.45</text>
<line x1="375.5" y1="313.7" x2="378.5" y2="313.7" stroke="#1f77b4" stroke-width="0.9"/>
<text x="373.8" y="317.78" font-size="12" text-anchor="end" fill="#1f77b4" >0.50</text>
<line x1="375.5" y1="267.9" x2="378.5" y2="267.9" stroke="#1f77b4" stroke-width="0.9"/>
<text x="373.8" y="271.98" font-size="12" text-anchor="end" fill="#1f77b4" >0.55</text>
<line x1="660.6" y1="450.4" x2="657.6" y2="450.4" stroke="#d62728" stroke-width="0.9"/>
<text x="662.4" y="455.38" font-size="12" text-anchor="start" fill="#d62728" >0</text>
<line x1="660.6" y1="401.4" x2="657.6" y2="401.4" stroke="#d62728" stroke-width="0.9"/>
<text x="662.4" y="406.38" font-size="12" text-anchor="start" fill="#d62728" >1</text>
<line x1="660.6" y1="352.4" x2="657.6" y2="352.4" stroke="#d62728" stroke-width="0.9"/>
<text x="662.4" y="357.38" font-size="12" text-anchor="start" fill="#d62728" >2</text>
<line x1="660.6" y1="303.4" x2="657.6" y2="303.4" stroke="#d62728" stroke-width="0.9"/>
<text x="662.4" y="308.38" font-size="12" text-anchor="start" fill="#d62728" >3</text>
<line x1="660.6" y1="254.4" x2="657.6" y2="254.4" stroke="#d62728" stroke-width="0.9"/>
<text x="662.4" y="259.38" font-size="12" text-anchor="start" fill="#d62728" >4</text>
<line x1="386.2" y1="461.45" x2="386.2" y2="463.95" stroke="#c8c8c8" stroke-width="0.9"/>
<text x="386.2" y="473.43" font-size="12.6" text-anchor="middle" fill="#000" >0</text>
<line x1="429.8" y1="461.45" x2="429.8" y2="463.95" stroke="#c8c8c8" stroke-width="0.9"/>
<text x="429.8" y="473.43" font-size="12.6" text-anchor="middle" fill="#000" >50</text>
<line x1="473.4" y1="461.45" x2="473.4" y2="463.95" stroke="#c8c8c8" stroke-width="0.9"/>
<text x="473.4" y="473.43" font-size="12.6" text-anchor="middle" fill="#000" >100</text>
<line x1="517" y1="461.45" x2="517" y2="463.95" stroke="#c8c8c8" stroke-width="0.9"/>
<text x="517" y="473.43" font-size="12.6" text-anchor="middle" fill="#000" >150</text>
<line x1="560.6" y1="461.45" x2="560.6" y2="463.95" stroke="#c8c8c8" stroke-width="0.9"/>
<text x="560.6" y="473.43" font-size="12.6" text-anchor="middle" fill="#000" >200</text>
<line x1="604.2" y1="461.45" x2="604.2" y2="463.95" stroke="#c8c8c8" stroke-width="0.9"/>
<text x="604.2" y="473.43" font-size="12.6" text-anchor="middle" fill="#000" >250</text>
<line x1="647.8" y1="461.45" x2="647.8" y2="463.95" stroke="#c8c8c8" stroke-width="0.9"/>
<text x="647.8" y="473.43" font-size="12.6" text-anchor="middle" fill="#000" >300</text>
<text x="518.7" y="485.5" font-size="12" text-anchor="middle" fill="#000" >Temperature (K)</text>
<text style="text-rendering:auto" transform="translate(348.8,357.5) rotate(-90)" font-size="13" text-anchor="middle" fill="#1f77b4"><tspan font-style="italic">R</tspan><tspan font-style="italic" font-size="9" dy="2.5">H</tspan><tspan dy="-2.5">(Ω)</tspan></text>
<text style="text-rendering:auto" transform="translate(678,358) rotate(-90)" font-size="12.5" text-anchor="middle" fill="#d62728">H(kOe)</text>
<text x="334.5" y="259.2" font-size="19.8" text-anchor="start" fill="#000" >(d)</text>
</svg>
</body></html>
